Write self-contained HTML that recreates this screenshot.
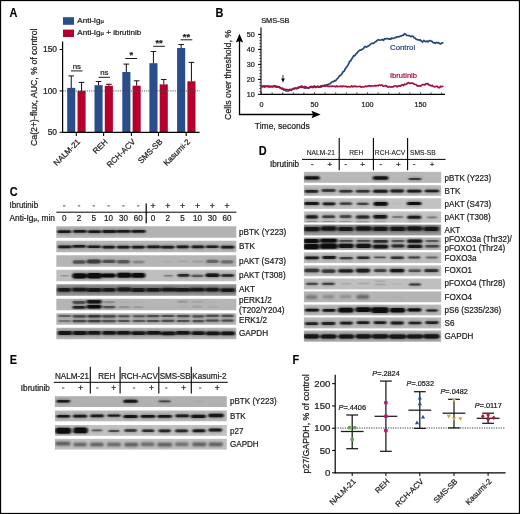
<!DOCTYPE html>
<html><head><meta charset="utf-8"><title>Figure</title>
<style>html,body{margin:0;padding:0;background:#fff;}svg{display:block;}</style></head>
<body>
<svg width="520" height="514" viewBox="0 0 520 514" font-family="Liberation Sans, sans-serif">
<defs>
<filter id="b1" x="-20%" y="-50%" width="140%" height="200%"><feGaussianBlur stdDeviation="0.9 0.7"/></filter>
<filter id="b2" x="-20%" y="-50%" width="140%" height="200%"><feGaussianBlur stdDeviation="1.3 1.0"/></filter>
<filter id="bt" x="0" y="0" width="100%" height="100%" filterUnits="userSpaceOnUse"><feGaussianBlur stdDeviation="0.33"/></filter>
</defs>
<rect x="0" y="0" width="520" height="514" fill="#fff"/>
<g filter="url(#bt)">
<text x="0" y="0" font-size="11.9" text-anchor="start" fill="#000" font-weight="bold" font-style="normal" stroke="#000" stroke-width="0.1" transform="translate(9.5 17) scale(0.92 1)" >A</text>
<text x="0" y="0" font-size="11.9" text-anchor="start" fill="#000" font-weight="bold" font-style="normal" stroke="#000" stroke-width="0.1" transform="translate(215.5 16.8) scale(0.92 1)" >B</text>
<text x="0" y="0" font-size="11.9" text-anchor="start" fill="#000" font-weight="bold" font-style="normal" stroke="#000" stroke-width="0.1" transform="translate(9.7 196.4) scale(0.92 1)" >C</text>
<text x="0" y="0" font-size="11.9" text-anchor="start" fill="#000" font-weight="bold" font-style="normal" stroke="#000" stroke-width="0.1" transform="translate(258.7 155.0) scale(0.92 1)" >D</text>
<text x="0" y="0" font-size="11.9" text-anchor="start" fill="#000" font-weight="bold" font-style="normal" stroke="#000" stroke-width="0.1" transform="translate(9.8 364) scale(0.92 1)" >E</text>
<text x="0" y="0" font-size="11.9" text-anchor="start" fill="#000" font-weight="bold" font-style="normal" stroke="#000" stroke-width="0.1" transform="translate(292.5 364) scale(0.92 1)" >F</text>
<rect x="63" y="17.2" width="11" height="7.6" fill="#2b4d8b"/>
<rect x="63" y="29.6" width="11" height="7.4" fill="#b5062e"/>
<text x="77.3" y="23.1" font-size="8.05" text-anchor="start" fill="#1a1a1a" font-weight="normal" font-style="normal" stroke="#1a1a1a" stroke-width="0.22" >Anti-Ig<tspan font-size="5.9">µ</tspan></text>
<text x="77.3" y="35.4" font-size="8.05" text-anchor="start" fill="#1a1a1a" font-weight="normal" font-style="normal" stroke="#1a1a1a" stroke-width="0.22" >Anti-Ig<tspan font-size="5.9">µ</tspan> + ibrutinib</text>
<rect x="67.2" y="87.9" width="8.1" height="44.4" fill="#2b4d8b"/>
<line x1="71.25" y1="87.9" x2="71.25" y2="75.9" stroke="#1a1a1a" stroke-width="1.05" />
<line x1="68.45" y1="75.9" x2="74.05" y2="75.9" stroke="#1a1a1a" stroke-width="1.05" />
<rect x="77.5" y="90.9" width="8.1" height="41.4" fill="#b5062e"/>
<line x1="81.55" y1="90.9" x2="81.55" y2="82.4" stroke="#1a1a1a" stroke-width="1.05" />
<line x1="78.75" y1="82.4" x2="84.35" y2="82.4" stroke="#1a1a1a" stroke-width="1.05" />
<rect x="94.5" y="85.2" width="8.1" height="47.1" fill="#2b4d8b"/>
<line x1="98.55" y1="85.2" x2="98.55" y2="81.5" stroke="#1a1a1a" stroke-width="1.05" />
<line x1="95.75" y1="81.5" x2="101.35" y2="81.5" stroke="#1a1a1a" stroke-width="1.05" />
<rect x="104.8" y="85.8" width="8.1" height="46.5" fill="#b5062e"/>
<line x1="108.85" y1="85.8" x2="108.85" y2="84.3" stroke="#1a1a1a" stroke-width="1.05" />
<line x1="106.05" y1="84.3" x2="111.64999999999999" y2="84.3" stroke="#1a1a1a" stroke-width="1.05" />
<rect x="122.3" y="72.0" width="8.1" height="60.3" fill="#2b4d8b"/>
<line x1="126.35" y1="72" x2="126.35" y2="64.1" stroke="#1a1a1a" stroke-width="1.05" />
<line x1="123.55" y1="64.1" x2="129.15" y2="64.1" stroke="#1a1a1a" stroke-width="1.05" />
<rect x="132.6" y="85.7" width="8.1" height="46.6" fill="#b5062e"/>
<line x1="136.65" y1="85.7" x2="136.65" y2="80.8" stroke="#1a1a1a" stroke-width="1.05" />
<line x1="133.85" y1="80.8" x2="139.45000000000002" y2="80.8" stroke="#1a1a1a" stroke-width="1.05" />
<rect x="149.4" y="63.2" width="8.1" height="69.1" fill="#2b4d8b"/>
<line x1="153.45000000000002" y1="63.2" x2="153.45000000000002" y2="51.5" stroke="#1a1a1a" stroke-width="1.05" />
<line x1="150.65" y1="51.5" x2="156.25000000000003" y2="51.5" stroke="#1a1a1a" stroke-width="1.05" />
<rect x="159.7" y="84.4" width="8.1" height="47.9" fill="#b5062e"/>
<line x1="163.75000000000003" y1="84.4" x2="163.75000000000003" y2="79.5" stroke="#1a1a1a" stroke-width="1.05" />
<line x1="160.95000000000002" y1="79.5" x2="166.55000000000004" y2="79.5" stroke="#1a1a1a" stroke-width="1.05" />
<rect x="177.1" y="48.0" width="8.1" height="84.3" fill="#2b4d8b"/>
<line x1="181.15" y1="48" x2="181.15" y2="44.5" stroke="#1a1a1a" stroke-width="1.05" />
<line x1="178.35" y1="44.5" x2="183.95000000000002" y2="44.5" stroke="#1a1a1a" stroke-width="1.05" />
<rect x="187.4" y="81.3" width="8.1" height="51.0" fill="#b5062e"/>
<line x1="191.45000000000002" y1="81.3" x2="191.45000000000002" y2="62.4" stroke="#1a1a1a" stroke-width="1.05" />
<line x1="188.65" y1="62.4" x2="194.25000000000003" y2="62.4" stroke="#1a1a1a" stroke-width="1.05" />
<line x1="62.6" y1="90.9" x2="199.5" y2="90.9" stroke="#444" stroke-width="0.9" stroke-dasharray="1.1 1.1"/>
<line x1="62.6" y1="41.6" x2="62.6" y2="132.8" stroke="#000" stroke-width="1.2" />
<line x1="62.0" y1="132.3" x2="199.5" y2="132.3" stroke="#000" stroke-width="1.2" />
<line x1="59.6" y1="49.5" x2="62.6" y2="49.5" stroke="#000" stroke-width="1" />
<text x="57.0" y="52.3" font-size="8.4" text-anchor="end" fill="#1a1a1a" font-weight="normal" font-style="normal" stroke="#1a1a1a" stroke-width="0.22" >150</text>
<line x1="59.6" y1="90.9" x2="62.6" y2="90.9" stroke="#000" stroke-width="1" />
<text x="57.0" y="93.7" font-size="8.4" text-anchor="end" fill="#1a1a1a" font-weight="normal" font-style="normal" stroke="#1a1a1a" stroke-width="0.22" >100</text>
<line x1="59.6" y1="132.3" x2="62.6" y2="132.3" stroke="#000" stroke-width="1" />
<text x="57.0" y="135.10000000000002" font-size="8.4" text-anchor="end" fill="#1a1a1a" font-weight="normal" font-style="normal" stroke="#1a1a1a" stroke-width="0.22" >50</text>
<line x1="76.3" y1="132.3" x2="76.3" y2="136.10000000000002" stroke="#000" stroke-width="1.1" />
<line x1="103.6" y1="132.3" x2="103.6" y2="136.10000000000002" stroke="#000" stroke-width="1.1" />
<line x1="131.4" y1="132.3" x2="131.4" y2="136.10000000000002" stroke="#000" stroke-width="1.1" />
<line x1="158.5" y1="132.3" x2="158.5" y2="136.10000000000002" stroke="#000" stroke-width="1.1" />
<line x1="186.2" y1="132.3" x2="186.2" y2="136.10000000000002" stroke="#000" stroke-width="1.1" />
<text x="0" y="0" font-size="8.75" text-anchor="start" fill="#1a1a1a" font-weight="normal" font-style="normal" stroke="#1a1a1a" stroke-width="0.22" transform="translate(37 146) rotate(-90)" >Ca(2+)-flux, AUC, % of control</text>
<line x1="71" y1="70.9" x2="82.5" y2="70.9" stroke="#000" stroke-width="0.9" />
<text x="76.75" y="68.60000000000001" font-size="7.8" text-anchor="middle" fill="#1a1a1a" font-weight="normal" font-style="normal" stroke="#1a1a1a" stroke-width="0.22" >ns</text>
<line x1="98.6" y1="77.3" x2="110" y2="77.3" stroke="#000" stroke-width="0.9" />
<text x="104.3" y="75.0" font-size="7.8" text-anchor="middle" fill="#1a1a1a" font-weight="normal" font-style="normal" stroke="#1a1a1a" stroke-width="0.22" >ns</text>
<line x1="125.4" y1="58.5" x2="137.1" y2="58.5" stroke="#000" stroke-width="0.9" />
<text x="131.25" y="58.4" font-size="9.3" text-anchor="middle" fill="#1a1a1a" font-weight="bold" font-style="normal" stroke="#1a1a1a" stroke-width="0.22" >*</text>
<line x1="153.2" y1="46.3" x2="164.8" y2="46.3" stroke="#000" stroke-width="0.9" />
<text x="159.0" y="46.199999999999996" font-size="9.3" text-anchor="middle" fill="#1a1a1a" font-weight="bold" font-style="normal" stroke="#1a1a1a" stroke-width="0.22" >**</text>
<line x1="180.6" y1="39.8" x2="192.3" y2="39.8" stroke="#000" stroke-width="0.9" />
<text x="186.45" y="39.699999999999996" font-size="9.3" text-anchor="middle" fill="#1a1a1a" font-weight="bold" font-style="normal" stroke="#1a1a1a" stroke-width="0.22" >**</text>
<text x="0" y="0" font-size="8.0" text-anchor="end" fill="#1a1a1a" font-weight="normal" font-style="normal" stroke="#1a1a1a" stroke-width="0.22" transform="translate(80.7 142.3) rotate(-45)" >NALM-21</text>
<text x="0" y="0" font-size="8.0" text-anchor="end" fill="#1a1a1a" font-weight="normal" font-style="normal" stroke="#1a1a1a" stroke-width="0.22" transform="translate(108.0 142.3) rotate(-45)" >REH</text>
<text x="0" y="0" font-size="8.0" text-anchor="end" fill="#1a1a1a" font-weight="normal" font-style="normal" stroke="#1a1a1a" stroke-width="0.22" transform="translate(135.8 142.3) rotate(-45)" >RCH-ACV</text>
<text x="0" y="0" font-size="8.0" text-anchor="end" fill="#1a1a1a" font-weight="normal" font-style="normal" stroke="#1a1a1a" stroke-width="0.22" transform="translate(162.9 142.3) rotate(-45)" >SMS-SB</text>
<text x="0" y="0" font-size="8.0" text-anchor="end" fill="#1a1a1a" font-weight="normal" font-style="normal" stroke="#1a1a1a" stroke-width="0.22" transform="translate(190.6 142.3) rotate(-45)" >Kasumi-2</text>
<text x="261.2" y="22.9" font-size="7.4" text-anchor="start" fill="#1a1a1a" font-weight="normal" font-style="normal" stroke="#1a1a1a" stroke-width="0.22" >SMS-SB</text>
<line x1="261.0" y1="27.6" x2="261.0" y2="94.9" stroke="#000" stroke-width="1.1" />
<line x1="261.0" y1="94.4" x2="445" y2="94.4" stroke="#000" stroke-width="1.2" />
<line x1="258.0" y1="94.4" x2="261.0" y2="94.4" stroke="#000" stroke-width="1" />
<text x="254.8" y="97.0" font-size="7.2" text-anchor="end" fill="#1a1a1a" font-weight="normal" font-style="normal" stroke="#1a1a1a" stroke-width="0.22" >10</text>
<line x1="258.0" y1="79.4" x2="261.0" y2="79.4" stroke="#000" stroke-width="1" />
<text x="254.8" y="82.0" font-size="7.2" text-anchor="end" fill="#1a1a1a" font-weight="normal" font-style="normal" stroke="#1a1a1a" stroke-width="0.22" >20</text>
<line x1="258.0" y1="64.4" x2="261.0" y2="64.4" stroke="#000" stroke-width="1" />
<text x="254.8" y="67.0" font-size="7.2" text-anchor="end" fill="#1a1a1a" font-weight="normal" font-style="normal" stroke="#1a1a1a" stroke-width="0.22" >30</text>
<line x1="258.0" y1="49.400000000000006" x2="261.0" y2="49.400000000000006" stroke="#000" stroke-width="1" />
<text x="254.8" y="52.00000000000001" font-size="7.2" text-anchor="end" fill="#1a1a1a" font-weight="normal" font-style="normal" stroke="#1a1a1a" stroke-width="0.22" >40</text>
<line x1="258.0" y1="34.400000000000006" x2="261.0" y2="34.400000000000006" stroke="#000" stroke-width="1" />
<text x="254.8" y="37.00000000000001" font-size="7.2" text-anchor="end" fill="#1a1a1a" font-weight="normal" font-style="normal" stroke="#1a1a1a" stroke-width="0.22" >50</text>
<line x1="259.3" y1="94.4" x2="261.0" y2="94.4" stroke="#000" stroke-width="0.6" />
<line x1="259.3" y1="91.4" x2="261.0" y2="91.4" stroke="#000" stroke-width="0.6" />
<line x1="259.3" y1="88.4" x2="261.0" y2="88.4" stroke="#000" stroke-width="0.6" />
<line x1="259.3" y1="85.4" x2="261.0" y2="85.4" stroke="#000" stroke-width="0.6" />
<line x1="259.3" y1="82.4" x2="261.0" y2="82.4" stroke="#000" stroke-width="0.6" />
<line x1="259.3" y1="79.4" x2="261.0" y2="79.4" stroke="#000" stroke-width="0.6" />
<line x1="259.3" y1="76.4" x2="261.0" y2="76.4" stroke="#000" stroke-width="0.6" />
<line x1="259.3" y1="73.4" x2="261.0" y2="73.4" stroke="#000" stroke-width="0.6" />
<line x1="259.3" y1="70.4" x2="261.0" y2="70.4" stroke="#000" stroke-width="0.6" />
<line x1="259.3" y1="67.4" x2="261.0" y2="67.4" stroke="#000" stroke-width="0.6" />
<line x1="259.3" y1="64.4" x2="261.0" y2="64.4" stroke="#000" stroke-width="0.6" />
<line x1="259.3" y1="61.400000000000006" x2="261.0" y2="61.400000000000006" stroke="#000" stroke-width="0.6" />
<line x1="259.3" y1="58.400000000000006" x2="261.0" y2="58.400000000000006" stroke="#000" stroke-width="0.6" />
<line x1="259.3" y1="55.400000000000006" x2="261.0" y2="55.400000000000006" stroke="#000" stroke-width="0.6" />
<line x1="259.3" y1="52.400000000000006" x2="261.0" y2="52.400000000000006" stroke="#000" stroke-width="0.6" />
<line x1="259.3" y1="49.400000000000006" x2="261.0" y2="49.400000000000006" stroke="#000" stroke-width="0.6" />
<line x1="259.3" y1="46.400000000000006" x2="261.0" y2="46.400000000000006" stroke="#000" stroke-width="0.6" />
<line x1="259.3" y1="43.400000000000006" x2="261.0" y2="43.400000000000006" stroke="#000" stroke-width="0.6" />
<line x1="259.3" y1="40.400000000000006" x2="261.0" y2="40.400000000000006" stroke="#000" stroke-width="0.6" />
<line x1="259.3" y1="37.400000000000006" x2="261.0" y2="37.400000000000006" stroke="#000" stroke-width="0.6" />
<line x1="259.3" y1="34.400000000000006" x2="261.0" y2="34.400000000000006" stroke="#000" stroke-width="0.6" />
<line x1="261.5" y1="92.4" x2="261.5" y2="94.4" stroke="#000" stroke-width="0.7" />
<line x1="272.1" y1="92.4" x2="272.1" y2="94.4" stroke="#000" stroke-width="0.7" />
<line x1="282.7" y1="92.4" x2="282.7" y2="94.4" stroke="#000" stroke-width="0.7" />
<line x1="293.3" y1="92.4" x2="293.3" y2="94.4" stroke="#000" stroke-width="0.7" />
<line x1="303.9" y1="92.4" x2="303.9" y2="94.4" stroke="#000" stroke-width="0.7" />
<line x1="314.5" y1="92.4" x2="314.5" y2="94.4" stroke="#000" stroke-width="0.7" />
<line x1="325.1" y1="92.4" x2="325.1" y2="94.4" stroke="#000" stroke-width="0.7" />
<line x1="335.7" y1="92.4" x2="335.7" y2="94.4" stroke="#000" stroke-width="0.7" />
<line x1="346.3" y1="92.4" x2="346.3" y2="94.4" stroke="#000" stroke-width="0.7" />
<line x1="356.9" y1="92.4" x2="356.9" y2="94.4" stroke="#000" stroke-width="0.7" />
<line x1="367.5" y1="92.4" x2="367.5" y2="94.4" stroke="#000" stroke-width="0.7" />
<line x1="378.1" y1="92.4" x2="378.1" y2="94.4" stroke="#000" stroke-width="0.7" />
<line x1="388.7" y1="92.4" x2="388.7" y2="94.4" stroke="#000" stroke-width="0.7" />
<line x1="399.3" y1="92.4" x2="399.3" y2="94.4" stroke="#000" stroke-width="0.7" />
<line x1="409.9" y1="92.4" x2="409.9" y2="94.4" stroke="#000" stroke-width="0.7" />
<line x1="420.5" y1="92.4" x2="420.5" y2="94.4" stroke="#000" stroke-width="0.7" />
<line x1="431.1" y1="92.4" x2="431.1" y2="94.4" stroke="#000" stroke-width="0.7" />
<line x1="441.70000000000005" y1="92.4" x2="441.70000000000005" y2="94.4" stroke="#000" stroke-width="0.7" />
<text x="261.5" y="106.9" font-size="7.2" text-anchor="middle" fill="#1a1a1a" font-weight="normal" font-style="normal" stroke="#1a1a1a" stroke-width="0.22" >0</text>
<text x="314.5" y="106.9" font-size="7.2" text-anchor="middle" fill="#1a1a1a" font-weight="normal" font-style="normal" stroke="#1a1a1a" stroke-width="0.22" >50</text>
<text x="367.5" y="106.9" font-size="7.2" text-anchor="middle" fill="#1a1a1a" font-weight="normal" font-style="normal" stroke="#1a1a1a" stroke-width="0.22" >100</text>
<text x="420.5" y="106.9" font-size="7.2" text-anchor="middle" fill="#1a1a1a" font-weight="normal" font-style="normal" stroke="#1a1a1a" stroke-width="0.22" >150</text>
<line x1="239.5" y1="115" x2="239.5" y2="40" stroke="#000" stroke-width="1.3" />
<path d="M239.5 33.8 L243.2 42.5 L239.5 41 L235.8 42.5 Z" fill="#000"/>
<line x1="238.9" y1="114.5" x2="313" y2="114.5" stroke="#000" stroke-width="1.3" />
<path d="M320.6 114.5 L311.5 118.3 L313 114.5 L311.5 110.7 Z" fill="#000"/>
<text x="0" y="0" font-size="8.75" text-anchor="start" fill="#1a1a1a" font-weight="normal" font-style="normal" stroke="#1a1a1a" stroke-width="0.22" transform="translate(231 119.9) rotate(-90)" >Cells over threshold, %</text>
<text x="0" y="0" font-size="9.9" text-anchor="start" fill="#1a1a1a" font-weight="normal" font-style="normal" stroke="#1a1a1a" stroke-width="0.22" transform="translate(254.8 129.0) scale(0.86 1)" >Time, seconds</text>
<line x1="283" y1="75" x2="283" y2="80" stroke="#000" stroke-width="0.8" />
<path d="M283 82.5 L281.2 78.6 L284.8 78.6 Z" fill="#000"/>
<polyline points="261.5,86.7 262.6,87.0 263.6,86.1 264.7,87.0 265.7,86.2 266.8,86.4 267.9,86.8 268.9,86.0 270.0,86.8 271.0,86.2 272.1,86.9 273.2,86.9 274.2,86.5 275.3,85.9 276.3,87.1 277.4,87.1 278.5,86.8 279.5,86.8 280.6,87.8 281.6,88.6 282.7,88.1 283.8,90.2 284.8,89.4 285.9,90.8 286.9,91.0 288.0,91.0 289.1,90.6 290.1,89.7 291.2,90.4 292.2,89.3 293.3,88.9 294.4,89.0 295.4,88.3 296.5,88.8 297.5,88.5 298.6,88.0 299.7,86.9 300.7,87.0 301.8,87.4 302.8,87.2 303.9,87.7 305.0,88.2 306.0,87.6 307.1,87.6 308.1,88.2 309.2,87.4 310.3,87.3 311.3,86.6 312.4,86.7 313.4,87.4 314.5,86.1 315.6,87.5 316.6,86.9 317.7,86.2 318.7,87.1 319.8,86.5 320.9,87.1 321.9,85.9 323.0,85.6 324.0,85.7 325.1,85.1 326.2,85.6 327.2,84.6 328.3,84.4 329.3,84.1 330.4,83.6 331.5,82.4 332.5,81.6 333.6,81.7 334.6,80.6 335.7,80.9 336.8,79.1 337.8,78.4 338.9,76.6 339.9,75.7 341.0,75.1 342.1,73.5 343.1,71.6 344.2,71.2 345.2,68.8 346.3,67.6 347.4,66.0 348.4,64.4 349.5,61.6 350.5,61.0 351.6,59.2 352.7,57.4 353.7,55.6 354.8,55.9 355.8,54.2 356.9,53.1 358.0,51.7 359.0,50.9 360.1,50.0 361.1,50.1 362.2,49.2 363.3,48.7 364.3,47.2 365.4,46.4 366.4,47.1 367.5,46.5 368.6,45.8 369.6,45.2 370.7,44.2 371.7,43.4 372.8,43.4 373.9,43.2 374.9,42.0 376.0,41.5 377.0,40.6 378.1,39.8 379.2,40.0 380.2,40.1 381.3,39.8 382.3,39.5 383.4,40.4 384.5,38.8 385.5,38.9 386.6,38.6 387.6,38.6 388.7,39.1 389.8,38.9 390.8,39.1 391.9,37.9 392.9,38.5 394.0,38.2 395.1,37.6 396.1,37.4 397.2,36.8 398.2,36.9 399.3,36.7 400.4,36.1 401.4,35.9 402.5,35.1 403.5,35.4 404.6,33.6 405.7,34.3 406.7,35.4 407.8,35.5 408.8,35.6 409.9,35.8 411.0,36.7 412.0,36.0 413.1,36.3 414.1,37.7 415.2,38.2 416.3,39.3 417.3,39.7 418.4,39.8 419.4,40.3 420.5,39.9 421.6,41.4 422.6,42.1 423.7,40.5 424.7,41.2 425.8,41.7 426.9,41.0 427.9,41.8 429.0,41.0 430.0,40.5 431.1,41.0 432.2,41.6 433.2,42.6 434.3,42.7 435.3,43.2 436.4,42.4 437.5,42.9 438.5,42.6 439.6,43.5 440.6,43.9 441.7,43.0 442.8,42.9" fill="none" stroke="#27457f" stroke-width="1.7" stroke-linejoin="round" stroke-linecap="round"/>
<polyline points="261.5,86.1 262.6,86.1 263.6,86.0 264.7,86.0 265.7,86.6 266.8,86.1 267.9,86.2 268.9,86.7 270.0,86.8 271.0,86.5 272.1,86.6 273.2,86.1 274.2,85.8 275.3,86.7 276.3,86.3 277.4,86.5 278.5,86.7 279.5,87.8 280.6,88.2 281.6,88.6 282.7,89.1 283.8,89.5 284.8,89.4 285.9,89.5 286.9,89.5 288.0,89.9 289.1,89.6 290.1,89.3 291.2,90.2 292.2,89.1 293.3,88.4 294.4,88.3 295.4,88.1 296.5,88.1 297.5,88.2 298.6,87.1 299.7,87.4 300.7,86.5 301.8,86.0 302.8,86.9 303.9,87.1 305.0,86.5 306.0,87.0 307.1,87.9 308.1,87.9 309.2,87.8 310.3,86.7 311.3,86.7 312.4,87.5 313.4,86.5 314.5,86.3 315.6,86.6 316.6,87.0 317.7,86.6 318.7,87.1 319.8,87.2 320.9,85.8 321.9,86.2 323.0,86.3 324.0,85.7 325.1,86.3 326.2,85.7 327.2,85.7 328.3,86.5 329.3,86.4 330.4,86.3 331.5,86.4 332.5,86.0 333.6,86.5 334.6,86.3 335.7,86.8 336.8,85.8 337.8,86.6 338.9,86.5 339.9,86.4 341.0,86.1 342.1,86.7 343.1,86.0 344.2,86.5 345.2,86.4 346.3,86.4 347.4,87.1 348.4,86.5 349.5,86.8 350.5,87.0 351.6,85.9 352.7,86.8 353.7,86.4 354.8,86.1 355.8,86.4 356.9,86.8 358.0,86.5 359.0,86.5 360.1,86.3 361.1,87.2 362.2,86.7 363.3,87.0 364.3,86.9 365.4,86.2 366.4,86.4 367.5,86.3 368.6,85.9 369.6,85.7 370.7,86.2 371.7,85.9 372.8,86.0 373.9,85.9 374.9,85.6 376.0,85.9 377.0,85.7 378.1,85.7 379.2,85.0 380.2,85.3 381.3,85.2 382.3,85.2 383.4,86.3 384.5,86.0 385.5,85.6 386.6,85.9 387.6,87.0 388.7,87.1 389.8,86.6 390.8,87.1 391.9,86.8 392.9,87.0 394.0,86.2 395.1,86.0 396.1,85.8 397.2,86.8 398.2,85.8 399.3,85.7 400.4,86.2 401.4,85.0 402.5,84.7 403.5,85.5 404.6,84.1 405.7,84.4 406.7,83.9 407.8,82.8 408.8,82.6 409.9,83.5 411.0,83.2 412.0,83.1 413.1,83.4 414.1,84.1 415.2,84.5 416.3,84.6 417.3,86.1 418.4,85.9 419.4,85.8 420.5,86.1 421.6,85.3 422.6,84.6 423.7,84.5 424.7,85.0 425.8,83.7 426.9,83.9 427.9,83.6 429.0,85.1 430.0,85.2 431.1,85.9 432.2,85.3 433.2,86.3 434.3,86.8 435.3,86.6 436.4,86.3 437.5,86.6 438.5,87.7 439.6,87.6 440.6,86.4 441.7,86.7 442.8,86.3" fill="none" stroke="#a80f3c" stroke-width="1.7" stroke-linejoin="round" stroke-linecap="round"/>
<text x="390" y="49.5" font-size="7.8" text-anchor="start" fill="#27457f" font-weight="normal" font-style="normal" stroke="#27457f" stroke-width="0.22" >Control</text>
<text x="390" y="78" font-size="7.6" text-anchor="start" fill="#a80f3c" font-weight="normal" font-style="normal" stroke="#a80f3c" stroke-width="0.22" >Ibrutinib</text>
<text x="0" y="0" font-size="9.1" text-anchor="start" fill="#1a1a1a" font-weight="normal" font-style="normal" stroke="#1a1a1a" stroke-width="0.22" transform="translate(9.5 208.2) scale(0.885 1)" >Ibrutinib</text>
<text x="9.5" y="220.9" font-size="8.3" text-anchor="start" fill="#1a1a1a" font-weight="normal" font-style="normal" stroke="#1a1a1a" stroke-width="0.22" >Anti-Ig<tspan font-size="6.1">µ</tspan>, min</text>
<line x1="56.3" y1="212.2" x2="236.3" y2="212.2" stroke="#000" stroke-width="1" />
<line x1="146.2" y1="203.5" x2="146.2" y2="223.3" stroke="#000" stroke-width="1.2" />
<line x1="63.0" y1="205.9" x2="65.4" y2="205.9" stroke="#000" stroke-width="0.7" />
<line x1="77.8" y1="205.9" x2="80.2" y2="205.9" stroke="#000" stroke-width="0.7" />
<line x1="92.60000000000001" y1="205.9" x2="95.00000000000001" y2="205.9" stroke="#000" stroke-width="0.7" />
<line x1="107.4" y1="205.9" x2="109.80000000000001" y2="205.9" stroke="#000" stroke-width="0.7" />
<line x1="122.2" y1="205.9" x2="124.60000000000001" y2="205.9" stroke="#000" stroke-width="0.7" />
<line x1="137.0" y1="205.9" x2="139.39999999999998" y2="205.9" stroke="#000" stroke-width="0.7" />
<text x="153.0" y="209.2" font-size="8.6" text-anchor="middle" fill="#1a1a1a" font-weight="normal" font-style="normal" stroke="#1a1a1a" stroke-width="0.22" >+</text>
<text x="167.8" y="209.2" font-size="8.6" text-anchor="middle" fill="#1a1a1a" font-weight="normal" font-style="normal" stroke="#1a1a1a" stroke-width="0.22" >+</text>
<text x="182.60000000000002" y="209.2" font-size="8.6" text-anchor="middle" fill="#1a1a1a" font-weight="normal" font-style="normal" stroke="#1a1a1a" stroke-width="0.22" >+</text>
<text x="197.40000000000003" y="209.2" font-size="8.6" text-anchor="middle" fill="#1a1a1a" font-weight="normal" font-style="normal" stroke="#1a1a1a" stroke-width="0.22" >+</text>
<text x="212.2" y="209.2" font-size="8.6" text-anchor="middle" fill="#1a1a1a" font-weight="normal" font-style="normal" stroke="#1a1a1a" stroke-width="0.22" >+</text>
<text x="227.0" y="209.2" font-size="8.6" text-anchor="middle" fill="#1a1a1a" font-weight="normal" font-style="normal" stroke="#1a1a1a" stroke-width="0.22" >+</text>
<text x="0" y="0" font-size="8.7" text-anchor="middle" fill="#1a1a1a" font-weight="normal" font-style="normal" stroke="#1a1a1a" stroke-width="0.22" transform="translate(64.2 221.3) scale(0.93 1)" >0</text>
<text x="0" y="0" font-size="8.7" text-anchor="middle" fill="#1a1a1a" font-weight="normal" font-style="normal" stroke="#1a1a1a" stroke-width="0.22" transform="translate(79.0 221.3) scale(0.93 1)" >2</text>
<text x="0" y="0" font-size="8.7" text-anchor="middle" fill="#1a1a1a" font-weight="normal" font-style="normal" stroke="#1a1a1a" stroke-width="0.22" transform="translate(93.80000000000001 221.3) scale(0.93 1)" >5</text>
<text x="0" y="0" font-size="8.7" text-anchor="middle" fill="#1a1a1a" font-weight="normal" font-style="normal" stroke="#1a1a1a" stroke-width="0.22" transform="translate(108.60000000000001 221.3) scale(0.93 1)" >10</text>
<text x="0" y="0" font-size="8.7" text-anchor="middle" fill="#1a1a1a" font-weight="normal" font-style="normal" stroke="#1a1a1a" stroke-width="0.22" transform="translate(123.4 221.3) scale(0.93 1)" >30</text>
<text x="0" y="0" font-size="8.7" text-anchor="middle" fill="#1a1a1a" font-weight="normal" font-style="normal" stroke="#1a1a1a" stroke-width="0.22" transform="translate(138.2 221.3) scale(0.93 1)" >60</text>
<text x="0" y="0" font-size="8.7" text-anchor="middle" fill="#1a1a1a" font-weight="normal" font-style="normal" stroke="#1a1a1a" stroke-width="0.22" transform="translate(153.0 221.3) scale(0.93 1)" >0</text>
<text x="0" y="0" font-size="8.7" text-anchor="middle" fill="#1a1a1a" font-weight="normal" font-style="normal" stroke="#1a1a1a" stroke-width="0.22" transform="translate(167.8 221.3) scale(0.93 1)" >2</text>
<text x="0" y="0" font-size="8.7" text-anchor="middle" fill="#1a1a1a" font-weight="normal" font-style="normal" stroke="#1a1a1a" stroke-width="0.22" transform="translate(182.60000000000002 221.3) scale(0.93 1)" >5</text>
<text x="0" y="0" font-size="8.7" text-anchor="middle" fill="#1a1a1a" font-weight="normal" font-style="normal" stroke="#1a1a1a" stroke-width="0.22" transform="translate(197.40000000000003 221.3) scale(0.93 1)" >10</text>
<text x="0" y="0" font-size="8.7" text-anchor="middle" fill="#1a1a1a" font-weight="normal" font-style="normal" stroke="#1a1a1a" stroke-width="0.22" transform="translate(212.2 221.3) scale(0.93 1)" >30</text>
<text x="0" y="0" font-size="8.7" text-anchor="middle" fill="#1a1a1a" font-weight="normal" font-style="normal" stroke="#1a1a1a" stroke-width="0.22" transform="translate(227.0 221.3) scale(0.93 1)" >60</text>
<clipPath id="c1"><rect x="56.3" y="226.25" width="180.00" height="11.50"/></clipPath>
<rect x="56.3" y="226.25" width="180.00" height="11.50" fill="#b3b3b3"/>
<g clip-path="url(#c1)"><g filter="url(#b2)"><rect x="56.8" y="229.2" width="14.8" height="4.9" rx="2.5" fill="#111" opacity="0.27"/><rect x="72.7" y="228.9" width="14.2" height="4.9" rx="2.5" fill="#111" opacity="0.27"/><rect x="87.3" y="229.2" width="14.3" height="4.9" rx="2.5" fill="#111" opacity="0.27"/><rect x="101.7" y="229.0" width="15.0" height="4.9" rx="2.5" fill="#111" opacity="0.27"/><rect x="115.8" y="228.9" width="15.2" height="4.9" rx="2.5" fill="#111" opacity="0.27"/><rect x="130.9" y="228.9" width="15.1" height="4.9" rx="2.5" fill="#111" opacity="0.27"/></g><g filter="url(#b1)"><rect x="57.4" y="230.2" width="13.6" height="2.9" rx="1.4" fill="#0c0c0c" opacity="0.9"/><rect x="73.3" y="229.9" width="13.0" height="2.9" rx="1.4" fill="#0c0c0c" opacity="0.9"/><rect x="87.9" y="230.2" width="13.1" height="2.9" rx="1.4" fill="#0c0c0c" opacity="0.9"/><rect x="102.3" y="230.0" width="13.8" height="2.9" rx="1.4" fill="#0c0c0c" opacity="0.9"/><rect x="116.4" y="229.9" width="14.0" height="2.9" rx="1.4" fill="#0c0c0c" opacity="0.9"/><rect x="131.5" y="229.9" width="13.9" height="2.9" rx="1.4" fill="#0c0c0c" opacity="0.9"/></g></g>
<clipPath id="c2"><rect x="56.3" y="240.75" width="180.00" height="11.50"/></clipPath>
<rect x="56.3" y="240.75" width="180.00" height="11.50" fill="#b7b7b7"/>
<g clip-path="url(#c2)"><g filter="url(#b2)"><rect x="57.4" y="244.6" width="14.7" height="4.7" rx="2.5" fill="#111" opacity="0.26"/><rect x="71.8" y="244.1" width="14.5" height="4.7" rx="2.5" fill="#111" opacity="0.26"/><rect x="86.8" y="244.4" width="14.5" height="4.7" rx="2.5" fill="#111" opacity="0.26"/><rect x="101.7" y="244.7" width="14.0" height="4.7" rx="2.5" fill="#111" opacity="0.26"/><rect x="116.3" y="244.7" width="14.1" height="4.7" rx="2.5" fill="#111" opacity="0.26"/><rect x="131.0" y="244.7" width="14.4" height="4.7" rx="2.5" fill="#111" opacity="0.26"/><rect x="146.2" y="244.6" width="14.8" height="4.7" rx="2.5" fill="#111" opacity="0.26"/><rect x="160.6" y="244.8" width="14.2" height="4.7" rx="2.5" fill="#111" opacity="0.26"/><rect x="175.9" y="244.5" width="13.7" height="4.7" rx="2.5" fill="#111" opacity="0.26"/><rect x="190.9" y="244.6" width="14.0" height="4.7" rx="2.5" fill="#111" opacity="0.26"/><rect x="205.4" y="244.4" width="13.7" height="4.7" rx="2.5" fill="#111" opacity="0.26"/><rect x="220.4" y="244.8" width="14.4" height="4.7" rx="2.5" fill="#111" opacity="0.26"/></g><g filter="url(#b1)"><rect x="58.0" y="245.6" width="13.5" height="2.7" rx="1.4" fill="#0c0c0c" opacity="0.87"/><rect x="72.4" y="245.1" width="13.3" height="2.7" rx="1.4" fill="#0c0c0c" opacity="0.87"/><rect x="87.4" y="245.4" width="13.3" height="2.7" rx="1.4" fill="#0c0c0c" opacity="0.87"/><rect x="102.3" y="245.7" width="12.8" height="2.7" rx="1.4" fill="#0c0c0c" opacity="0.87"/><rect x="116.9" y="245.7" width="12.9" height="2.7" rx="1.4" fill="#0c0c0c" opacity="0.87"/><rect x="131.6" y="245.7" width="13.2" height="2.7" rx="1.4" fill="#0c0c0c" opacity="0.87"/><rect x="146.8" y="245.6" width="13.6" height="2.7" rx="1.4" fill="#0c0c0c" opacity="0.87"/><rect x="161.2" y="245.8" width="13.0" height="2.7" rx="1.4" fill="#0c0c0c" opacity="0.87"/><rect x="176.5" y="245.5" width="12.5" height="2.7" rx="1.4" fill="#0c0c0c" opacity="0.87"/><rect x="191.5" y="245.6" width="12.8" height="2.7" rx="1.4" fill="#0c0c0c" opacity="0.87"/><rect x="206.0" y="245.4" width="12.5" height="2.7" rx="1.4" fill="#0c0c0c" opacity="0.87"/><rect x="221.0" y="245.8" width="13.2" height="2.7" rx="1.4" fill="#0c0c0c" opacity="0.87"/></g></g>
<clipPath id="c3"><rect x="56.3" y="255.25" width="180.00" height="11.50"/></clipPath>
<rect x="56.3" y="255.25" width="180.00" height="11.50" fill="#b5b5b5"/>
<g clip-path="url(#c3)"><g filter="url(#b2)"><rect x="72.2" y="259.2" width="14.1" height="5.6" rx="2.5" fill="#111" opacity="0.12"/><rect x="86.3" y="258.4" width="15.0" height="6.0" rx="2.5" fill="#111" opacity="0.17"/><rect x="101.7" y="258.7" width="14.4" height="5.4" rx="2.5" fill="#111" opacity="0.12"/><rect x="116.4" y="259.1" width="14.0" height="5.4" rx="2.5" fill="#111" opacity="0.11"/><rect x="205.7" y="258.7" width="13.3" height="5.4" rx="2.5" fill="#111" opacity="0.10"/><rect x="220.3" y="259.2" width="13.7" height="5.2" rx="2.5" fill="#111" opacity="0.09"/></g><g filter="url(#b1)"><rect x="72.8" y="260.2" width="12.9" height="3.6" rx="1.8" fill="#0c0c0c" opacity="0.5"/><rect x="86.9" y="259.4" width="13.8" height="4.0" rx="2.0" fill="#0c0c0c" opacity="0.68"/><rect x="102.3" y="259.7" width="13.2" height="3.4" rx="1.7" fill="#0c0c0c" opacity="0.5"/><rect x="117.0" y="260.1" width="12.8" height="3.4" rx="1.7" fill="#0c0c0c" opacity="0.45"/><rect x="132.8" y="260.5" width="11.5" height="3.0" rx="1.5" fill="#0c0c0c" opacity="0.25"/><rect x="162.0" y="260.5" width="11.7" height="2.4" rx="1.2" fill="#0c0c0c" opacity="0.04"/><rect x="177.5" y="260.2" width="11.8" height="2.4" rx="1.2" fill="#0c0c0c" opacity="0.07"/><rect x="192.3" y="260.3" width="11.6" height="2.6" rx="1.3" fill="#0c0c0c" opacity="0.1"/><rect x="206.3" y="259.7" width="12.1" height="3.4" rx="1.7" fill="#0c0c0c" opacity="0.38"/><rect x="220.9" y="260.2" width="12.5" height="3.2" rx="1.6" fill="#0c0c0c" opacity="0.34"/></g></g>
<clipPath id="c4"><rect x="56.3" y="269.75" width="180.00" height="11.50"/></clipPath>
<rect x="56.3" y="269.75" width="180.00" height="11.50" fill="#bfbfbf"/>
<g clip-path="url(#c4)"><g filter="url(#b2)"><rect x="71.9" y="272.2" width="15.4" height="7.2" rx="2.5" fill="#111" opacity="0.30"/><rect x="86.3" y="272.0" width="16.2" height="7.4" rx="2.5" fill="#111" opacity="0.30"/><rect x="100.9" y="272.5" width="15.2" height="6.0" rx="2.5" fill="#111" opacity="0.30"/><rect x="116.3" y="271.8" width="15.6" height="7.0" rx="2.5" fill="#111" opacity="0.30"/><rect x="130.8" y="272.1" width="14.9" height="6.6" rx="2.5" fill="#111" opacity="0.30"/><rect x="163.1" y="273.9" width="10.5" height="3.6" rx="2.5" fill="#111" opacity="0.09"/><rect x="177.1" y="273.1" width="12.8" height="4.6" rx="2.5" fill="#111" opacity="0.24"/><rect x="191.1" y="273.8" width="12.7" height="4.2" rx="2.5" fill="#111" opacity="0.17"/><rect x="205.1" y="272.6" width="14.8" height="5.4" rx="2.5" fill="#111" opacity="0.28"/><rect x="220.8" y="273.2" width="13.7" height="4.6" rx="2.5" fill="#111" opacity="0.26"/></g><g filter="url(#b1)"><rect x="60.8" y="275.0" width="7.9" height="1.6" rx="0.8" fill="#0c0c0c" opacity="0.25"/><rect x="72.5" y="273.2" width="14.2" height="5.2" rx="2.6" fill="#0c0c0c" opacity="1"/><rect x="86.9" y="273.0" width="15.0" height="5.4" rx="2.7" fill="#0c0c0c" opacity="1"/><rect x="101.5" y="273.5" width="14.0" height="4.0" rx="2.0" fill="#0c0c0c" opacity="1"/><rect x="116.9" y="272.8" width="14.4" height="5.0" rx="2.5" fill="#0c0c0c" opacity="1"/><rect x="131.4" y="273.1" width="13.7" height="4.6" rx="2.3" fill="#0c0c0c" opacity="1"/><rect x="163.7" y="274.9" width="9.3" height="1.6" rx="0.8" fill="#0c0c0c" opacity="0.3"/><rect x="177.7" y="274.1" width="11.6" height="2.6" rx="1.3" fill="#0c0c0c" opacity="0.8"/><rect x="191.7" y="274.8" width="11.5" height="2.2" rx="1.1" fill="#0c0c0c" opacity="0.55"/><rect x="205.7" y="273.6" width="13.6" height="3.4" rx="1.7" fill="#0c0c0c" opacity="0.95"/><rect x="221.4" y="274.2" width="12.5" height="2.6" rx="1.3" fill="#0c0c0c" opacity="0.85"/></g></g>
<clipPath id="c5"><rect x="56.3" y="284.25" width="180.00" height="11.50"/></clipPath>
<rect x="56.3" y="284.25" width="180.00" height="11.50" fill="#949494"/>
<g clip-path="url(#c5)"><g filter="url(#b2)"><rect x="56.7" y="286.9" width="15.0" height="5.8" rx="2.5" fill="#111" opacity="0.35"/><rect x="71.4" y="286.7" width="16.0" height="5.8" rx="2.5" fill="#111" opacity="0.35"/><rect x="86.2" y="287.1" width="16.1" height="5.8" rx="2.5" fill="#111" opacity="0.35"/><rect x="101.6" y="286.9" width="14.8" height="5.8" rx="2.5" fill="#111" opacity="0.35"/><rect x="116.5" y="286.6" width="15.2" height="5.8" rx="2.5" fill="#111" opacity="0.35"/><rect x="130.6" y="287.1" width="15.3" height="5.8" rx="2.5" fill="#111" opacity="0.35"/><rect x="145.4" y="286.9" width="15.9" height="5.8" rx="2.5" fill="#111" opacity="0.35"/><rect x="160.7" y="286.8" width="16.0" height="5.8" rx="2.5" fill="#111" opacity="0.35"/><rect x="175.1" y="287.0" width="16.2" height="5.8" rx="2.5" fill="#111" opacity="0.35"/><rect x="189.8" y="286.8" width="15.4" height="5.8" rx="2.5" fill="#111" opacity="0.35"/><rect x="204.9" y="286.8" width="14.9" height="5.8" rx="2.5" fill="#111" opacity="0.35"/><rect x="219.8" y="287.2" width="16.0" height="5.8" rx="2.5" fill="#111" opacity="0.35"/></g><g filter="url(#b1)"><rect x="57.3" y="287.9" width="13.8" height="3.8" rx="1.9" fill="#0c0c0c" opacity="0.88"/><rect x="72.0" y="287.7" width="14.8" height="3.8" rx="1.9" fill="#0c0c0c" opacity="0.88"/><rect x="86.8" y="288.1" width="14.9" height="3.8" rx="1.9" fill="#0c0c0c" opacity="0.88"/><rect x="102.2" y="287.9" width="13.6" height="3.8" rx="1.9" fill="#0c0c0c" opacity="0.88"/><rect x="117.1" y="287.6" width="14.0" height="3.8" rx="1.9" fill="#0c0c0c" opacity="0.88"/><rect x="131.2" y="288.1" width="14.1" height="3.8" rx="1.9" fill="#0c0c0c" opacity="0.88"/><rect x="146.0" y="287.9" width="14.7" height="3.8" rx="1.9" fill="#0c0c0c" opacity="0.88"/><rect x="161.3" y="287.8" width="14.8" height="3.8" rx="1.9" fill="#0c0c0c" opacity="0.88"/><rect x="175.7" y="288.0" width="15.0" height="3.8" rx="1.9" fill="#0c0c0c" opacity="0.88"/><rect x="190.4" y="287.8" width="14.2" height="3.8" rx="1.9" fill="#0c0c0c" opacity="0.88"/><rect x="205.5" y="287.8" width="13.7" height="3.8" rx="1.9" fill="#0c0c0c" opacity="0.88"/><rect x="220.4" y="288.2" width="14.8" height="3.8" rx="1.9" fill="#0c0c0c" opacity="0.88"/></g></g>
<clipPath id="c6"><rect x="56.3" y="298.75" width="180.00" height="11.50"/></clipPath>
<rect x="56.3" y="298.75" width="180.00" height="11.50" fill="#b5b5b5"/>
<g clip-path="url(#c6)"><g filter="url(#b2)"><rect x="72.2" y="299.9" width="13.8" height="4.8" rx="2.5" fill="#111" opacity="0.18"/><rect x="72.2" y="304.9" width="13.8" height="4.8" rx="2.5" fill="#111" opacity="0.26"/><rect x="86.1" y="299.1" width="16.0" height="5.4" rx="2.5" fill="#111" opacity="0.27"/><rect x="86.1" y="304.1" width="16.0" height="5.4" rx="2.5" fill="#111" opacity="0.29"/><rect x="102.5" y="304.9" width="13.1" height="4.4" rx="2.5" fill="#111" opacity="0.17"/></g><g filter="url(#b1)"><rect x="72.8" y="300.9" width="12.6" height="2.8" rx="1.4" fill="#0c0c0c" opacity="0.6"/><rect x="72.8" y="305.9" width="12.6" height="2.8" rx="1.4" fill="#0c0c0c" opacity="0.85"/><rect x="86.7" y="300.1" width="14.8" height="3.4" rx="1.7" fill="#0c0c0c" opacity="0.9"/><rect x="86.7" y="305.1" width="14.8" height="3.4" rx="1.7" fill="#0c0c0c" opacity="0.97"/><rect x="103.1" y="300.9" width="11.9" height="2.4" rx="1.2" fill="#0c0c0c" opacity="0.22"/><rect x="103.1" y="305.9" width="11.9" height="2.4" rx="1.2" fill="#0c0c0c" opacity="0.55"/><rect x="118.4" y="301.1" width="11.5" height="2.2" rx="1.1" fill="#0c0c0c" opacity="0.04"/><rect x="118.4" y="306.1" width="11.5" height="2.2" rx="1.1" fill="#0c0c0c" opacity="0.2"/><rect x="133.2" y="301.0" width="10.6" height="2.2" rx="1.1" fill="#0c0c0c" opacity="0.02"/><rect x="133.2" y="306.0" width="10.6" height="2.2" rx="1.1" fill="#0c0c0c" opacity="0.14"/><rect x="177.4" y="300.6" width="10.4" height="2.4" rx="1.2" fill="#0c0c0c" opacity="0.15"/><rect x="177.4" y="305.4" width="10.4" height="2.4" rx="1.2" fill="#0c0c0c" opacity="0.05"/><rect x="192.2" y="300.7" width="10.6" height="2.4" rx="1.2" fill="#0c0c0c" opacity="0.08"/><rect x="192.2" y="305.5" width="10.6" height="2.4" rx="1.2" fill="#0c0c0c" opacity="0.1"/><rect x="208.1" y="300.9" width="9.5" height="2.4" rx="1.2" fill="#0c0c0c" opacity="0.02"/><rect x="208.1" y="305.7" width="9.5" height="2.4" rx="1.2" fill="#0c0c0c" opacity="0.06"/></g></g>
<clipPath id="c7"><rect x="56.3" y="313.25" width="180.00" height="11.50"/></clipPath>
<rect x="56.3" y="313.25" width="180.00" height="11.50" fill="#b8b8b8"/>
<g clip-path="url(#c7)"><g filter="url(#b2)"><rect x="57.6" y="314.1" width="13.9" height="4.0" rx="2.5" fill="#111" opacity="0.14"/><rect x="57.6" y="318.9" width="13.9" height="4.0" rx="2.5" fill="#111" opacity="0.10"/><rect x="72.0" y="314.2" width="14.9" height="4.2" rx="2.5" fill="#111" opacity="0.21"/><rect x="72.0" y="319.0" width="14.9" height="4.2" rx="2.5" fill="#111" opacity="0.21"/><rect x="87.2" y="314.1" width="14.3" height="4.4" rx="2.5" fill="#111" opacity="0.24"/><rect x="87.2" y="318.9" width="14.3" height="4.4" rx="2.5" fill="#111" opacity="0.23"/><rect x="101.5" y="314.2" width="15.0" height="4.2" rx="2.5" fill="#111" opacity="0.21"/><rect x="101.5" y="319.0" width="15.0" height="4.2" rx="2.5" fill="#111" opacity="0.19"/><rect x="117.3" y="314.2" width="13.1" height="4.0" rx="2.5" fill="#111" opacity="0.17"/><rect x="117.3" y="319.0" width="13.1" height="4.0" rx="2.5" fill="#111" opacity="0.17"/><rect x="132.0" y="314.2" width="14.0" height="4.0" rx="2.5" fill="#111" opacity="0.16"/><rect x="132.0" y="319.0" width="14.0" height="4.0" rx="2.5" fill="#111" opacity="0.16"/><rect x="146.0" y="314.1" width="14.2" height="4.2" rx="2.5" fill="#111" opacity="0.17"/><rect x="146.0" y="318.9" width="14.2" height="4.2" rx="2.5" fill="#111" opacity="0.17"/><rect x="160.7" y="313.9" width="14.4" height="4.2" rx="2.5" fill="#111" opacity="0.17"/><rect x="160.7" y="318.7" width="14.4" height="4.2" rx="2.5" fill="#111" opacity="0.17"/><rect x="176.1" y="314.1" width="14.3" height="4.2" rx="2.5" fill="#111" opacity="0.17"/><rect x="176.1" y="318.9" width="14.3" height="4.2" rx="2.5" fill="#111" opacity="0.17"/><rect x="191.6" y="314.2" width="13.3" height="4.2" rx="2.5" fill="#111" opacity="0.17"/><rect x="191.6" y="319.0" width="13.3" height="4.2" rx="2.5" fill="#111" opacity="0.17"/><rect x="205.1" y="313.7" width="14.7" height="4.2" rx="2.5" fill="#111" opacity="0.17"/><rect x="205.1" y="318.5" width="14.7" height="4.2" rx="2.5" fill="#111" opacity="0.17"/><rect x="220.8" y="313.8" width="13.5" height="4.2" rx="2.5" fill="#111" opacity="0.17"/><rect x="220.8" y="318.6" width="13.5" height="4.2" rx="2.5" fill="#111" opacity="0.17"/></g><g filter="url(#b1)"><rect x="58.2" y="315.1" width="12.7" height="2.0" rx="1.0" fill="#0c0c0c" opacity="0.4"/><rect x="58.2" y="319.9" width="12.7" height="2.0" rx="1.0" fill="#0c0c0c" opacity="0.3"/><rect x="72.6" y="315.2" width="13.7" height="2.2" rx="1.1" fill="#0c0c0c" opacity="0.6"/><rect x="72.6" y="320.0" width="13.7" height="2.2" rx="1.1" fill="#0c0c0c" opacity="0.6"/><rect x="87.8" y="315.1" width="13.1" height="2.4" rx="1.2" fill="#0c0c0c" opacity="0.7"/><rect x="87.8" y="319.9" width="13.1" height="2.4" rx="1.2" fill="#0c0c0c" opacity="0.65"/><rect x="102.1" y="315.2" width="13.8" height="2.2" rx="1.1" fill="#0c0c0c" opacity="0.6"/><rect x="102.1" y="320.0" width="13.8" height="2.2" rx="1.1" fill="#0c0c0c" opacity="0.55"/><rect x="117.9" y="315.2" width="11.9" height="2.0" rx="1.0" fill="#0c0c0c" opacity="0.5"/><rect x="117.9" y="320.0" width="11.9" height="2.0" rx="1.0" fill="#0c0c0c" opacity="0.5"/><rect x="132.6" y="315.2" width="12.8" height="2.0" rx="1.0" fill="#0c0c0c" opacity="0.45"/><rect x="132.6" y="320.0" width="12.8" height="2.0" rx="1.0" fill="#0c0c0c" opacity="0.45"/><rect x="146.6" y="315.1" width="13.0" height="2.2" rx="1.1" fill="#0c0c0c" opacity="0.5"/><rect x="146.6" y="319.9" width="13.0" height="2.2" rx="1.1" fill="#0c0c0c" opacity="0.5"/><rect x="161.3" y="314.9" width="13.2" height="2.2" rx="1.1" fill="#0c0c0c" opacity="0.5"/><rect x="161.3" y="319.7" width="13.2" height="2.2" rx="1.1" fill="#0c0c0c" opacity="0.5"/><rect x="176.7" y="315.1" width="13.1" height="2.2" rx="1.1" fill="#0c0c0c" opacity="0.5"/><rect x="176.7" y="319.9" width="13.1" height="2.2" rx="1.1" fill="#0c0c0c" opacity="0.5"/><rect x="192.2" y="315.2" width="12.1" height="2.2" rx="1.1" fill="#0c0c0c" opacity="0.5"/><rect x="192.2" y="320.0" width="12.1" height="2.2" rx="1.1" fill="#0c0c0c" opacity="0.5"/><rect x="205.7" y="314.7" width="13.5" height="2.2" rx="1.1" fill="#0c0c0c" opacity="0.5"/><rect x="205.7" y="319.5" width="13.5" height="2.2" rx="1.1" fill="#0c0c0c" opacity="0.5"/><rect x="221.4" y="314.8" width="12.3" height="2.2" rx="1.1" fill="#0c0c0c" opacity="0.5"/><rect x="221.4" y="319.6" width="12.3" height="2.2" rx="1.1" fill="#0c0c0c" opacity="0.5"/></g></g>
<clipPath id="c8"><rect x="56.3" y="327.75" width="180.00" height="11.50"/></clipPath>
<rect x="56.3" y="327.75" width="180.00" height="11.50" fill="#b5b5b5"/>
<g clip-path="url(#c8)"><g filter="url(#b2)"><rect x="57.2" y="330.1" width="15.5" height="5.8" rx="2.5" fill="#111" opacity="0.33"/><rect x="72.1" y="330.1" width="15.4" height="5.8" rx="2.5" fill="#111" opacity="0.33"/><rect x="86.7" y="330.0" width="14.8" height="5.8" rx="2.5" fill="#111" opacity="0.33"/><rect x="101.6" y="330.0" width="15.3" height="5.8" rx="2.5" fill="#111" opacity="0.33"/><rect x="116.2" y="330.0" width="14.9" height="5.8" rx="2.5" fill="#111" opacity="0.33"/><rect x="130.7" y="330.2" width="15.6" height="5.8" rx="2.5" fill="#111" opacity="0.33"/><rect x="145.9" y="330.0" width="15.8" height="5.8" rx="2.5" fill="#111" opacity="0.33"/><rect x="160.6" y="330.5" width="15.5" height="5.8" rx="2.5" fill="#111" opacity="0.33"/><rect x="175.2" y="330.0" width="15.7" height="5.8" rx="2.5" fill="#111" opacity="0.33"/><rect x="191.1" y="330.3" width="14.4" height="5.8" rx="2.5" fill="#111" opacity="0.33"/><rect x="205.1" y="330.4" width="15.6" height="5.8" rx="2.5" fill="#111" opacity="0.33"/><rect x="220.2" y="330.5" width="15.4" height="5.8" rx="2.5" fill="#111" opacity="0.33"/></g><g filter="url(#b1)"><rect x="57.8" y="331.1" width="14.3" height="3.8" rx="1.9" fill="#0c0c0c" opacity="0.93"/><rect x="72.7" y="331.1" width="14.2" height="3.8" rx="1.9" fill="#0c0c0c" opacity="0.93"/><rect x="87.3" y="331.0" width="13.6" height="3.8" rx="1.9" fill="#0c0c0c" opacity="0.93"/><rect x="102.2" y="331.0" width="14.1" height="3.8" rx="1.9" fill="#0c0c0c" opacity="0.93"/><rect x="116.8" y="331.0" width="13.7" height="3.8" rx="1.9" fill="#0c0c0c" opacity="0.93"/><rect x="131.3" y="331.2" width="14.4" height="3.8" rx="1.9" fill="#0c0c0c" opacity="0.93"/><rect x="146.5" y="331.0" width="14.6" height="3.8" rx="1.9" fill="#0c0c0c" opacity="0.93"/><rect x="161.2" y="331.5" width="14.3" height="3.8" rx="1.9" fill="#0c0c0c" opacity="0.93"/><rect x="175.8" y="331.0" width="14.5" height="3.8" rx="1.9" fill="#0c0c0c" opacity="0.93"/><rect x="191.7" y="331.3" width="13.2" height="3.8" rx="1.9" fill="#0c0c0c" opacity="0.93"/><rect x="205.7" y="331.4" width="14.4" height="3.8" rx="1.9" fill="#0c0c0c" opacity="0.93"/><rect x="220.8" y="331.5" width="14.2" height="3.8" rx="1.9" fill="#0c0c0c" opacity="0.93"/></g></g>
<text x="0" y="0" font-size="8.7" text-anchor="start" fill="#1a1a1a" font-weight="normal" font-style="normal" stroke="#1a1a1a" stroke-width="0.22" transform="translate(239 235.05) scale(0.94 1)" >pBTK (Y223)</text>
<text x="0" y="0" font-size="8.7" text-anchor="start" fill="#1a1a1a" font-weight="normal" font-style="normal" stroke="#1a1a1a" stroke-width="0.22" transform="translate(239 249.25) scale(0.94 1)" >BTK</text>
<text x="0" y="0" font-size="8.7" text-anchor="start" fill="#1a1a1a" font-weight="normal" font-style="normal" stroke="#1a1a1a" stroke-width="0.22" transform="translate(239 263.95) scale(0.94 1)" >pAKT (S473)</text>
<text x="0" y="0" font-size="8.7" text-anchor="start" fill="#1a1a1a" font-weight="normal" font-style="normal" stroke="#1a1a1a" stroke-width="0.22" transform="translate(239 278.45) scale(0.94 1)" >pAKT (T308)</text>
<text x="0" y="0" font-size="8.7" text-anchor="start" fill="#1a1a1a" font-weight="normal" font-style="normal" stroke="#1a1a1a" stroke-width="0.22" transform="translate(239 292.45) scale(0.94 1)" >AKT</text>
<text x="0" y="0" font-size="8.7" text-anchor="start" fill="#1a1a1a" font-weight="normal" font-style="normal" stroke="#1a1a1a" stroke-width="0.22" transform="translate(239 302.95) scale(0.94 1)" >pERK1/2</text>
<text x="0" y="0" font-size="8.7" text-anchor="start" fill="#1a1a1a" font-weight="normal" font-style="normal" stroke="#1a1a1a" stroke-width="0.22" transform="translate(239 313.04999999999995) scale(0.94 1)" >(T202/Y204)</text>
<text x="0" y="0" font-size="8.7" text-anchor="start" fill="#1a1a1a" font-weight="normal" font-style="normal" stroke="#1a1a1a" stroke-width="0.22" transform="translate(239 323.04999999999995) scale(0.94 1)" >ERK1/2</text>
<text x="0" y="0" font-size="8.7" text-anchor="start" fill="#1a1a1a" font-weight="normal" font-style="normal" stroke="#1a1a1a" stroke-width="0.22" transform="translate(239 336.34999999999997) scale(0.94 1)" >GAPDH</text>
<text x="320.8" y="155.0" font-size="6.7" text-anchor="middle" fill="#1a1a1a" font-weight="normal" font-style="normal" stroke="#1a1a1a" stroke-width="0.1" >NALM-21</text>
<text x="356.3" y="155.0" font-size="6.7" text-anchor="middle" fill="#1a1a1a" font-weight="normal" font-style="normal" stroke="#1a1a1a" stroke-width="0.1" >REH</text>
<text x="390.1" y="155.0" font-size="6.7" text-anchor="middle" fill="#1a1a1a" font-weight="normal" font-style="normal" stroke="#1a1a1a" stroke-width="0.1" >RCH-ACV</text>
<text x="422.9" y="155.0" font-size="6.7" text-anchor="middle" fill="#1a1a1a" font-weight="normal" font-style="normal" stroke="#1a1a1a" stroke-width="0.1" >SMS-SB</text>
<line x1="302" y1="159.4" x2="445.5" y2="159.4" stroke="#000" stroke-width="1" />
<line x1="339.2" y1="138" x2="339.2" y2="170.2" stroke="#000" stroke-width="1.1" />
<line x1="373.4" y1="138" x2="373.4" y2="170.2" stroke="#000" stroke-width="1.1" />
<line x1="407.6" y1="138" x2="407.6" y2="170.2" stroke="#000" stroke-width="1.1" />
<text x="270" y="167.2" font-size="8.2" text-anchor="start" fill="#1a1a1a" font-weight="normal" font-style="normal" stroke="#1a1a1a" stroke-width="0.22" >Ibrutinib</text>
<line x1="311.1" y1="164.6" x2="313.5" y2="164.6" stroke="#000" stroke-width="0.7" />
<text x="329.9" y="167.3" font-size="8" text-anchor="middle" fill="#1a1a1a" font-weight="normal" font-style="normal" stroke="#1a1a1a" stroke-width="0.22" >+</text>
<line x1="344.5" y1="164.6" x2="346.9" y2="164.6" stroke="#000" stroke-width="0.7" />
<text x="362.7" y="167.3" font-size="8" text-anchor="middle" fill="#1a1a1a" font-weight="normal" font-style="normal" stroke="#1a1a1a" stroke-width="0.22" >+</text>
<line x1="379.6" y1="164.6" x2="382.0" y2="164.6" stroke="#000" stroke-width="0.7" />
<text x="398.4" y="167.3" font-size="8" text-anchor="middle" fill="#1a1a1a" font-weight="normal" font-style="normal" stroke="#1a1a1a" stroke-width="0.22" >+</text>
<line x1="413.0" y1="164.6" x2="415.4" y2="164.6" stroke="#000" stroke-width="0.7" />
<text x="432.1" y="167.3" font-size="8" text-anchor="middle" fill="#1a1a1a" font-weight="normal" font-style="normal" stroke="#1a1a1a" stroke-width="0.22" >+</text>
<clipPath id="c9"><rect x="303.9" y="171.8" width="137.30" height="11.00"/></clipPath>
<rect x="303.9" y="171.8" width="137.30" height="11.00" fill="#b8b8b8"/>
<g clip-path="url(#c9)"><g filter="url(#b2)"><rect x="303.7" y="175.3" width="16.4" height="5.2" rx="2.5" fill="#111" opacity="0.28"/><rect x="372.4" y="175.3" width="16.4" height="5.4" rx="2.5" fill="#111" opacity="0.28"/><rect x="408.2" y="177.1" width="13.6" height="3.8" rx="2.5" fill="#111" opacity="0.21"/></g><g filter="url(#b1)"><rect x="304.3" y="176.3" width="15.2" height="3.2" rx="1.6" fill="#0c0c0c" opacity="0.95"/><rect x="373.0" y="176.3" width="15.2" height="3.4" rx="1.7" fill="#0c0c0c" opacity="0.95"/><rect x="408.8" y="178.1" width="12.4" height="1.8" rx="0.9" fill="#0c0c0c" opacity="0.7"/></g></g>
<clipPath id="c10"><rect x="303.9" y="185.2" width="137.30" height="10.60"/></clipPath>
<rect x="303.9" y="185.2" width="137.30" height="10.60" fill="#bcbcbc"/>
<g clip-path="url(#c10)"><g filter="url(#b2)"><rect x="304.2" y="189.1" width="14.5" height="4.6" rx="2.5" fill="#111" opacity="0.26"/><rect x="321.2" y="188.3" width="14.8" height="4.4" rx="2.5" fill="#111" opacity="0.22"/><rect x="338.8" y="189.1" width="14.2" height="4.4" rx="2.5" fill="#111" opacity="0.22"/><rect x="355.4" y="189.0" width="14.9" height="4.4" rx="2.5" fill="#111" opacity="0.22"/><rect x="372.7" y="188.8" width="15.6" height="5.0" rx="2.5" fill="#111" opacity="0.27"/><rect x="389.9" y="188.6" width="14.5" height="4.8" rx="2.5" fill="#111" opacity="0.26"/><rect x="406.6" y="188.8" width="15.3" height="4.8" rx="2.5" fill="#111" opacity="0.27"/><rect x="424.3" y="188.7" width="15.3" height="4.6" rx="2.5" fill="#111" opacity="0.26"/></g><g filter="url(#b1)"><rect x="304.8" y="190.1" width="13.3" height="2.6" rx="1.3" fill="#0c0c0c" opacity="0.85"/><rect x="321.8" y="189.3" width="13.6" height="2.4" rx="1.2" fill="#0c0c0c" opacity="0.75"/><rect x="339.4" y="190.1" width="13.0" height="2.4" rx="1.2" fill="#0c0c0c" opacity="0.75"/><rect x="356.0" y="190.0" width="13.7" height="2.4" rx="1.2" fill="#0c0c0c" opacity="0.75"/><rect x="373.3" y="189.8" width="14.4" height="3.0" rx="1.5" fill="#0c0c0c" opacity="0.9"/><rect x="390.5" y="189.6" width="13.3" height="2.8" rx="1.4" fill="#0c0c0c" opacity="0.85"/><rect x="407.2" y="189.8" width="14.1" height="2.8" rx="1.4" fill="#0c0c0c" opacity="0.9"/><rect x="424.9" y="189.7" width="14.1" height="2.6" rx="1.3" fill="#0c0c0c" opacity="0.85"/></g></g>
<clipPath id="c11"><rect x="303.9" y="198.3" width="137.30" height="10.60"/></clipPath>
<rect x="303.9" y="198.3" width="137.30" height="10.60" fill="#c2c2c2"/>
<g clip-path="url(#c11)"><g filter="url(#b2)"><rect x="303.7" y="200.9" width="15.9" height="5.0" rx="2.5" fill="#111" opacity="0.28"/><rect x="322.2" y="201.4" width="13.7" height="4.8" rx="2.5" fill="#111" opacity="0.27"/><rect x="339.3" y="201.6" width="13.1" height="4.2" rx="2.5" fill="#111" opacity="0.21"/><rect x="356.4" y="201.7" width="12.7" height="4.2" rx="2.5" fill="#111" opacity="0.20"/><rect x="373.1" y="201.1" width="15.2" height="5.6" rx="2.5" fill="#111" opacity="0.30"/><rect x="406.5" y="200.9" width="15.4" height="5.2" rx="2.5" fill="#111" opacity="0.29"/></g><g filter="url(#b1)"><rect x="304.3" y="201.9" width="14.7" height="3.0" rx="1.5" fill="#0c0c0c" opacity="0.95"/><rect x="322.8" y="202.4" width="12.5" height="2.8" rx="1.4" fill="#0c0c0c" opacity="0.9"/><rect x="339.9" y="202.6" width="11.9" height="2.2" rx="1.1" fill="#0c0c0c" opacity="0.7"/><rect x="357.0" y="202.7" width="11.5" height="2.2" rx="1.1" fill="#0c0c0c" opacity="0.65"/><rect x="373.7" y="202.1" width="14.0" height="3.6" rx="1.8" fill="#0c0c0c" opacity="1"/><rect x="392.2" y="202.4" width="11.0" height="2.0" rx="1.0" fill="#0c0c0c" opacity="0.04"/><rect x="407.1" y="201.9" width="14.2" height="3.2" rx="1.6" fill="#0c0c0c" opacity="0.97"/></g></g>
<clipPath id="c12"><rect x="303.9" y="211.4" width="137.30" height="11.30"/></clipPath>
<rect x="303.9" y="211.4" width="137.30" height="11.30" fill="#c3c3c3"/>
<g clip-path="url(#c12)"><g filter="url(#b2)"><rect x="305.2" y="214.2" width="13.2" height="5.4" rx="2.5" fill="#111" opacity="0.35"/><rect x="321.8" y="214.4" width="13.7" height="4.6" rx="2.5" fill="#111" opacity="0.27"/><rect x="339.3" y="214.3" width="12.6" height="4.6" rx="2.5" fill="#111" opacity="0.25"/><rect x="355.6" y="214.4" width="14.4" height="5.0" rx="2.5" fill="#111" opacity="0.31"/><rect x="372.8" y="214.1" width="14.9" height="5.4" rx="2.5" fill="#111" opacity="0.37"/><rect x="391.6" y="215.1" width="12.2" height="4.0" rx="2.5" fill="#111" opacity="0.12"/><rect x="407.0" y="214.8" width="14.6" height="5.0" rx="2.5" fill="#111" opacity="0.36"/><rect x="426.5" y="215.5" width="10.9" height="3.8" rx="2.5" fill="#111" opacity="0.12"/></g><g filter="url(#b1)"><rect x="305.8" y="215.2" width="12.0" height="3.4" rx="1.7" fill="#0c0c0c" opacity="0.88"/><rect x="305.7" y="221.0" width="12.2" height="1.1" rx="0.6" fill="#0c0c0c" opacity="0.28"/><rect x="322.4" y="215.4" width="12.5" height="2.6" rx="1.3" fill="#0c0c0c" opacity="0.68"/><rect x="321.9" y="221.0" width="13.5" height="1.1" rx="0.6" fill="#0c0c0c" opacity="0.28"/><rect x="339.9" y="215.3" width="11.4" height="2.6" rx="1.3" fill="#0c0c0c" opacity="0.62"/><rect x="339.4" y="221.0" width="12.4" height="1.1" rx="0.6" fill="#0c0c0c" opacity="0.25"/><rect x="356.2" y="215.4" width="13.2" height="3.0" rx="1.5" fill="#0c0c0c" opacity="0.78"/><rect x="356.0" y="221.3" width="13.6" height="1.1" rx="0.6" fill="#0c0c0c" opacity="0.28"/><rect x="373.4" y="215.1" width="13.7" height="3.4" rx="1.7" fill="#0c0c0c" opacity="0.93"/><rect x="374.4" y="221.2" width="11.7" height="1.0" rx="0.5" fill="#0c0c0c" opacity="0.18"/><rect x="392.2" y="216.1" width="11.0" height="2.0" rx="1.0" fill="#0c0c0c" opacity="0.3"/><rect x="407.6" y="215.8" width="13.4" height="3.0" rx="1.5" fill="#0c0c0c" opacity="0.9"/><rect x="408.2" y="221.5" width="12.2" height="1.0" rx="0.5" fill="#0c0c0c" opacity="0.15"/><rect x="427.1" y="216.5" width="9.7" height="1.8" rx="0.9" fill="#0c0c0c" opacity="0.3"/></g></g>
<clipPath id="c13"><rect x="303.9" y="224.6" width="137.30" height="10.80"/></clipPath>
<rect x="303.9" y="224.6" width="137.30" height="10.80" fill="#9a9a9a"/>
<g clip-path="url(#c13)"><g filter="url(#b2)"><rect x="303.3" y="226.0" width="17.3" height="6.2" rx="2.5" fill="#111" opacity="0.41"/><rect x="320.3" y="225.5" width="16.8" height="6.2" rx="2.5" fill="#111" opacity="0.41"/><rect x="337.4" y="225.9" width="16.4" height="6.2" rx="2.5" fill="#111" opacity="0.41"/><rect x="355.0" y="225.6" width="17.2" height="6.2" rx="2.5" fill="#111" opacity="0.41"/><rect x="372.1" y="225.8" width="16.4" height="6.2" rx="2.5" fill="#111" opacity="0.41"/><rect x="389.4" y="225.7" width="16.7" height="6.2" rx="2.5" fill="#111" opacity="0.41"/><rect x="406.2" y="225.5" width="16.7" height="6.2" rx="2.5" fill="#111" opacity="0.41"/><rect x="423.0" y="225.7" width="16.4" height="6.2" rx="2.5" fill="#111" opacity="0.41"/></g><g filter="url(#b1)"><rect x="303.9" y="227.0" width="16.1" height="4.2" rx="2.1" fill="#0c0c0c" opacity="0.9"/><rect x="320.9" y="226.5" width="15.6" height="4.2" rx="2.1" fill="#0c0c0c" opacity="0.9"/><rect x="338.0" y="226.9" width="15.2" height="4.2" rx="2.1" fill="#0c0c0c" opacity="0.9"/><rect x="355.6" y="226.6" width="16.0" height="4.2" rx="2.1" fill="#0c0c0c" opacity="0.9"/><rect x="372.7" y="226.8" width="15.2" height="4.2" rx="2.1" fill="#0c0c0c" opacity="0.9"/><rect x="390.0" y="226.7" width="15.5" height="4.2" rx="2.1" fill="#0c0c0c" opacity="0.9"/><rect x="406.8" y="226.5" width="15.5" height="4.2" rx="2.1" fill="#0c0c0c" opacity="0.9"/><rect x="423.6" y="226.7" width="15.2" height="4.2" rx="2.1" fill="#0c0c0c" opacity="0.9"/></g></g>
<clipPath id="c14"><rect x="303.9" y="237.4" width="137.30" height="12.60"/></clipPath>
<rect x="303.9" y="237.4" width="137.30" height="12.60" fill="#bababa"/>
<g clip-path="url(#c14)"><g filter="url(#b2)"><rect x="302.9" y="238.1" width="16.8" height="5.8" rx="2.5" fill="#111" opacity="0.30"/><rect x="302.7" y="243.0" width="17.2" height="7.2" rx="2.5" fill="#111" opacity="0.30"/><rect x="319.6" y="237.7" width="18.1" height="5.8" rx="2.5" fill="#111" opacity="0.30"/><rect x="319.4" y="242.6" width="18.5" height="7.2" rx="2.5" fill="#111" opacity="0.30"/><rect x="338.5" y="238.9" width="15.0" height="3.8" rx="2.5" fill="#111" opacity="0.18"/><rect x="337.7" y="242.8" width="16.6" height="6.2" rx="2.5" fill="#111" opacity="0.28"/><rect x="356.0" y="238.9" width="15.0" height="3.8" rx="2.5" fill="#111" opacity="0.18"/><rect x="355.2" y="242.8" width="16.6" height="6.2" rx="2.5" fill="#111" opacity="0.28"/><rect x="372.6" y="239.1" width="15.9" height="4.6" rx="2.5" fill="#111" opacity="0.24"/><rect x="372.3" y="243.8" width="16.5" height="5.6" rx="2.5" fill="#111" opacity="0.28"/><rect x="391.2" y="238.9" width="13.5" height="4.0" rx="2.5" fill="#111" opacity="0.17"/><rect x="390.9" y="243.6" width="14.1" height="4.8" rx="2.5" fill="#111" opacity="0.24"/><rect x="406.8" y="238.5" width="16.0" height="5.2" rx="2.5" fill="#111" opacity="0.28"/><rect x="406.8" y="243.7" width="16.0" height="5.4" rx="2.5" fill="#111" opacity="0.28"/><rect x="425.0" y="239.1" width="14.3" height="4.0" rx="2.5" fill="#111" opacity="0.14"/><rect x="424.8" y="244.1" width="14.7" height="4.4" rx="2.5" fill="#111" opacity="0.19"/></g><g filter="url(#b1)"><rect x="303.5" y="239.1" width="15.6" height="3.8" rx="1.9" fill="#0c0c0c" opacity="1"/><rect x="303.3" y="244.0" width="16.0" height="5.2" rx="2.6" fill="#0c0c0c" opacity="1"/><rect x="320.2" y="238.7" width="16.9" height="3.8" rx="1.9" fill="#0c0c0c" opacity="1"/><rect x="320.0" y="243.6" width="17.3" height="5.2" rx="2.6" fill="#0c0c0c" opacity="1"/><rect x="339.1" y="239.9" width="13.8" height="1.8" rx="0.9" fill="#0c0c0c" opacity="0.6"/><rect x="338.3" y="243.8" width="15.4" height="4.2" rx="2.1" fill="#0c0c0c" opacity="0.95"/><rect x="356.6" y="239.9" width="13.8" height="1.8" rx="0.9" fill="#0c0c0c" opacity="0.6"/><rect x="355.8" y="243.8" width="15.4" height="4.2" rx="2.1" fill="#0c0c0c" opacity="0.95"/><rect x="373.2" y="240.1" width="14.7" height="2.6" rx="1.3" fill="#0c0c0c" opacity="0.8"/><rect x="372.9" y="244.8" width="15.3" height="3.6" rx="1.8" fill="#0c0c0c" opacity="0.93"/><rect x="391.8" y="239.9" width="12.3" height="2.0" rx="1.0" fill="#0c0c0c" opacity="0.55"/><rect x="391.5" y="244.6" width="12.9" height="2.8" rx="1.4" fill="#0c0c0c" opacity="0.8"/><rect x="407.4" y="239.5" width="14.8" height="3.2" rx="1.6" fill="#0c0c0c" opacity="0.95"/><rect x="407.4" y="244.7" width="14.8" height="3.4" rx="1.7" fill="#0c0c0c" opacity="0.92"/><rect x="425.6" y="240.1" width="13.1" height="2.0" rx="1.0" fill="#0c0c0c" opacity="0.45"/><rect x="425.4" y="245.1" width="13.5" height="2.4" rx="1.2" fill="#0c0c0c" opacity="0.62"/></g></g>
<clipPath id="c15"><rect x="303.9" y="252.3" width="137.30" height="10.80"/></clipPath>
<rect x="303.9" y="252.3" width="137.30" height="10.80" fill="#bfbfbf"/>
<g clip-path="url(#c15)"><g filter="url(#b2)"><rect x="304.1" y="255.4" width="15.5" height="4.8" rx="2.5" fill="#111" opacity="0.27"/><rect x="321.8" y="255.1" width="14.7" height="4.8" rx="2.5" fill="#111" opacity="0.27"/><rect x="339.0" y="256.1" width="14.3" height="4.2" rx="2.5" fill="#111" opacity="0.21"/><rect x="356.4" y="255.6" width="13.8" height="4.4" rx="2.5" fill="#111" opacity="0.24"/><rect x="373.5" y="255.5" width="12.9" height="3.8" rx="2.5" fill="#111" opacity="0.15"/><rect x="390.1" y="255.5" width="14.3" height="4.4" rx="2.5" fill="#111" opacity="0.22"/><rect x="407.5" y="255.6" width="13.3" height="4.0" rx="2.5" fill="#111" opacity="0.20"/><rect x="425.3" y="255.6" width="12.8" height="3.8" rx="2.5" fill="#111" opacity="0.12"/></g><g filter="url(#b1)"><rect x="304.7" y="256.4" width="14.3" height="2.8" rx="1.4" fill="#0c0c0c" opacity="0.9"/><rect x="322.4" y="256.1" width="13.5" height="2.8" rx="1.4" fill="#0c0c0c" opacity="0.9"/><rect x="339.6" y="257.1" width="13.1" height="2.2" rx="1.1" fill="#0c0c0c" opacity="0.7"/><rect x="357.0" y="256.6" width="12.6" height="2.4" rx="1.2" fill="#0c0c0c" opacity="0.8"/><rect x="374.1" y="256.5" width="11.7" height="1.8" rx="0.9" fill="#0c0c0c" opacity="0.5"/><rect x="390.7" y="256.5" width="13.1" height="2.4" rx="1.2" fill="#0c0c0c" opacity="0.75"/><rect x="408.1" y="256.6" width="12.1" height="2.0" rx="1.0" fill="#0c0c0c" opacity="0.65"/><rect x="425.9" y="256.6" width="11.6" height="1.8" rx="0.9" fill="#0c0c0c" opacity="0.4"/></g></g>
<clipPath id="c16"><rect x="303.9" y="265.4" width="137.30" height="10.80"/></clipPath>
<rect x="303.9" y="265.4" width="137.30" height="10.80" fill="#c1c1c1"/>
<g clip-path="url(#c16)"><g filter="url(#b2)"><rect x="303.8" y="267.8" width="15.9" height="5.4" rx="2.5" fill="#111" opacity="0.28"/><rect x="321.3" y="268.4" width="14.7" height="5.4" rx="2.5" fill="#111" opacity="0.28"/><rect x="337.9" y="268.2" width="15.9" height="5.4" rx="2.5" fill="#111" opacity="0.35"/><rect x="355.5" y="267.8" width="14.9" height="5.6" rx="2.5" fill="#111" opacity="0.36"/><rect x="373.6" y="268.3" width="13.4" height="4.8" rx="2.5" fill="#111" opacity="0.26"/><rect x="389.4" y="267.9" width="15.4" height="5.4" rx="2.5" fill="#111" opacity="0.37"/><rect x="408.0" y="268.5" width="13.5" height="4.4" rx="2.5" fill="#111" opacity="0.22"/><rect x="423.9" y="268.3" width="15.0" height="4.8" rx="2.5" fill="#111" opacity="0.30"/></g><g filter="url(#b1)"><rect x="304.4" y="268.8" width="14.7" height="3.4" rx="1.7" fill="#0c0c0c" opacity="0.7"/><rect x="321.9" y="269.4" width="13.5" height="3.4" rx="1.7" fill="#0c0c0c" opacity="0.7"/><rect x="338.5" y="269.2" width="14.7" height="3.4" rx="1.7" fill="#0c0c0c" opacity="0.88"/><rect x="356.1" y="268.8" width="13.7" height="3.6" rx="1.8" fill="#0c0c0c" opacity="0.9"/><rect x="374.2" y="269.3" width="12.2" height="2.8" rx="1.4" fill="#0c0c0c" opacity="0.65"/><rect x="390.0" y="268.9" width="14.2" height="3.4" rx="1.7" fill="#0c0c0c" opacity="0.93"/><rect x="408.6" y="269.5" width="12.3" height="2.4" rx="1.2" fill="#0c0c0c" opacity="0.55"/><rect x="424.5" y="269.3" width="13.8" height="2.8" rx="1.4" fill="#0c0c0c" opacity="0.75"/></g></g>
<clipPath id="c17"><rect x="303.9" y="278.5" width="137.30" height="10.90"/></clipPath>
<rect x="303.9" y="278.5" width="137.30" height="10.90" fill="#bfbfbf"/>
<g clip-path="url(#c17)"><g filter="url(#b2)"><rect x="305.5" y="281.7" width="12.9" height="4.2" rx="2.5" fill="#111" opacity="0.18"/><rect x="321.6" y="281.7" width="13.6" height="4.2" rx="2.5" fill="#111" opacity="0.20"/><rect x="408.7" y="282.5" width="12.5" height="4.0" rx="2.5" fill="#111" opacity="0.21"/></g><g filter="url(#b1)"><rect x="306.1" y="282.7" width="11.7" height="2.2" rx="1.1" fill="#0c0c0c" opacity="0.6"/><rect x="322.2" y="282.7" width="12.4" height="2.2" rx="1.1" fill="#0c0c0c" opacity="0.65"/><rect x="340.7" y="282.7" width="10.4" height="2.0" rx="1.0" fill="#0c0c0c" opacity="0.1"/><rect x="358.0" y="282.6" width="11.2" height="2.0" rx="1.0" fill="#0c0c0c" opacity="0.12"/><rect x="375.0" y="280.3" width="10.6" height="2.0" rx="1.0" fill="#0c0c0c" opacity="0.1"/><rect x="375.0" y="283.5" width="10.6" height="2.0" rx="1.0" fill="#0c0c0c" opacity="0.15"/><rect x="391.7" y="282.9" width="11.1" height="2.0" rx="1.0" fill="#0c0c0c" opacity="0.05"/><rect x="409.3" y="283.5" width="11.3" height="2.0" rx="1.0" fill="#0c0c0c" opacity="0.7"/></g></g>
<clipPath id="c18"><rect x="303.9" y="291.4" width="137.30" height="10.80"/></clipPath>
<rect x="303.9" y="291.4" width="137.30" height="10.80" fill="#b5b5b5"/>
<g clip-path="url(#c18)"><g filter="url(#b2)"><rect x="305.3" y="294.5" width="12.5" height="5.2" rx="2.5" fill="#111" opacity="0.09"/><rect x="356.0" y="294.2" width="13.6" height="5.2" rx="2.5" fill="#111" opacity="0.12"/></g><g filter="url(#b2)"><rect x="305.9" y="295.5" width="11.3" height="3.2" rx="1.6" fill="#0c0c0c" opacity="0.3"/><rect x="322.6" y="295.3" width="11.6" height="3.0" rx="1.5" fill="#0c0c0c" opacity="0.28"/><rect x="339.8" y="295.3" width="11.5" height="2.8" rx="1.4" fill="#0c0c0c" opacity="0.25"/><rect x="356.6" y="295.2" width="12.4" height="3.2" rx="1.6" fill="#0c0c0c" opacity="0.4"/><rect x="374.3" y="296.0" width="11.6" height="2.0" rx="1.0" fill="#0c0c0c" opacity="0.04"/><rect x="392.4" y="296.0" width="10.5" height="2.0" rx="1.0" fill="#0c0c0c" opacity="0.05"/></g></g>
<clipPath id="c19"><rect x="303.9" y="304.6" width="137.30" height="10.80"/></clipPath>
<rect x="303.9" y="304.6" width="137.30" height="10.80" fill="#b9b9b9"/>
<g clip-path="url(#c19)"><g filter="url(#b2)"><rect x="304.7" y="307.8" width="14.7" height="4.8" rx="2.5" fill="#111" opacity="0.28"/><rect x="322.1" y="308.1" width="13.9" height="4.6" rx="2.5" fill="#111" opacity="0.28"/><rect x="337.5" y="306.8" width="16.7" height="6.8" rx="2.5" fill="#111" opacity="0.30"/><rect x="354.9" y="306.3" width="16.6" height="6.8" rx="2.5" fill="#111" opacity="0.30"/><rect x="370.6" y="306.2" width="18.7" height="7.8" rx="2.5" fill="#111" opacity="0.30"/><rect x="389.4" y="307.0" width="16.3" height="6.6" rx="2.5" fill="#111" opacity="0.30"/><rect x="406.9" y="307.2" width="14.9" height="5.2" rx="2.5" fill="#111" opacity="0.29"/><rect x="425.7" y="308.4" width="12.4" height="4.2" rx="2.5" fill="#111" opacity="0.26"/></g><g filter="url(#b1)"><rect x="305.3" y="308.8" width="13.5" height="2.8" rx="1.4" fill="#0c0c0c" opacity="0.95"/><rect x="322.7" y="309.1" width="12.7" height="2.6" rx="1.3" fill="#0c0c0c" opacity="0.93"/><rect x="338.1" y="307.8" width="15.5" height="4.8" rx="2.4" fill="#0c0c0c" opacity="1"/><rect x="355.5" y="307.3" width="15.4" height="4.8" rx="2.4" fill="#0c0c0c" opacity="1"/><rect x="371.2" y="307.2" width="17.5" height="5.8" rx="2.9" fill="#0c0c0c" opacity="1"/><rect x="390.0" y="308.0" width="15.1" height="4.6" rx="2.3" fill="#0c0c0c" opacity="1"/><rect x="407.5" y="308.2" width="13.7" height="3.2" rx="1.6" fill="#0c0c0c" opacity="0.97"/><rect x="426.3" y="309.4" width="11.2" height="2.2" rx="1.1" fill="#0c0c0c" opacity="0.85"/></g></g>
<clipPath id="c20"><rect x="303.9" y="317.4" width="137.30" height="11.00"/></clipPath>
<rect x="303.9" y="317.4" width="137.30" height="11.00" fill="#b9b9b9"/>
<g clip-path="url(#c20)"><g filter="url(#b2)"><rect x="304.6" y="321.3" width="14.1" height="4.8" rx="2.5" fill="#111" opacity="0.26"/><rect x="321.0" y="321.1" width="14.7" height="4.8" rx="2.5" fill="#111" opacity="0.26"/><rect x="339.4" y="320.7" width="13.8" height="4.8" rx="2.5" fill="#111" opacity="0.26"/><rect x="356.3" y="320.3" width="13.7" height="4.8" rx="2.5" fill="#111" opacity="0.26"/><rect x="373.3" y="320.2" width="13.5" height="4.8" rx="2.5" fill="#111" opacity="0.26"/><rect x="390.1" y="320.6" width="14.1" height="4.8" rx="2.5" fill="#111" opacity="0.26"/><rect x="408.1" y="320.7" width="13.9" height="4.6" rx="2.5" fill="#111" opacity="0.26"/><rect x="425.0" y="320.3" width="13.9" height="4.6" rx="2.5" fill="#111" opacity="0.26"/></g><g filter="url(#b1)"><rect x="305.2" y="322.3" width="12.9" height="2.8" rx="1.4" fill="#0c0c0c" opacity="0.85"/><rect x="321.6" y="322.1" width="13.5" height="2.8" rx="1.4" fill="#0c0c0c" opacity="0.85"/><rect x="340.0" y="321.7" width="12.6" height="2.8" rx="1.4" fill="#0c0c0c" opacity="0.88"/><rect x="356.9" y="321.3" width="12.5" height="2.8" rx="1.4" fill="#0c0c0c" opacity="0.88"/><rect x="373.9" y="321.2" width="12.3" height="2.8" rx="1.4" fill="#0c0c0c" opacity="0.88"/><rect x="390.7" y="321.6" width="12.9" height="2.8" rx="1.4" fill="#0c0c0c" opacity="0.88"/><rect x="408.7" y="321.7" width="12.7" height="2.6" rx="1.3" fill="#0c0c0c" opacity="0.85"/><rect x="425.6" y="321.3" width="12.7" height="2.6" rx="1.3" fill="#0c0c0c" opacity="0.85"/></g></g>
<clipPath id="c21"><rect x="303.9" y="330.5" width="137.30" height="11.30"/></clipPath>
<rect x="303.9" y="330.5" width="137.30" height="11.30" fill="#b2b2b2"/>
<g clip-path="url(#c21)"><g filter="url(#b2)"><rect x="303.0" y="333.2" width="16.7" height="6.2" rx="2.5" fill="#111" opacity="0.38"/><rect x="320.1" y="333.4" width="16.9" height="6.2" rx="2.5" fill="#111" opacity="0.38"/><rect x="338.0" y="333.4" width="16.6" height="6.2" rx="2.5" fill="#111" opacity="0.38"/><rect x="355.2" y="333.2" width="16.6" height="6.2" rx="2.5" fill="#111" opacity="0.38"/><rect x="371.4" y="333.2" width="17.5" height="6.2" rx="2.5" fill="#111" opacity="0.38"/><rect x="388.6" y="333.5" width="17.9" height="6.2" rx="2.5" fill="#111" opacity="0.38"/><rect x="406.2" y="333.4" width="17.2" height="6.2" rx="2.5" fill="#111" opacity="0.38"/><rect x="422.9" y="333.2" width="17.0" height="6.2" rx="2.5" fill="#111" opacity="0.38"/></g><g filter="url(#b1)"><rect x="303.6" y="334.2" width="15.5" height="4.2" rx="2.1" fill="#0c0c0c" opacity="0.95"/><rect x="320.7" y="334.4" width="15.7" height="4.2" rx="2.1" fill="#0c0c0c" opacity="0.95"/><rect x="338.6" y="334.4" width="15.4" height="4.2" rx="2.1" fill="#0c0c0c" opacity="0.95"/><rect x="355.8" y="334.2" width="15.4" height="4.2" rx="2.1" fill="#0c0c0c" opacity="0.95"/><rect x="372.0" y="334.2" width="16.3" height="4.2" rx="2.1" fill="#0c0c0c" opacity="0.95"/><rect x="389.2" y="334.5" width="16.7" height="4.2" rx="2.1" fill="#0c0c0c" opacity="0.95"/><rect x="406.8" y="334.4" width="16.0" height="4.2" rx="2.1" fill="#0c0c0c" opacity="0.95"/><rect x="423.5" y="334.2" width="15.8" height="4.2" rx="2.1" fill="#0c0c0c" opacity="0.95"/></g></g>
<text x="0" y="0" font-size="8.6" text-anchor="start" fill="#1a1a1a" font-weight="normal" font-style="normal" stroke="#1a1a1a" stroke-width="0.22" transform="translate(444.6 181.35000000000002) scale(0.94 1)" >pBTK (Y223)</text>
<text x="0" y="0" font-size="8.6" text-anchor="start" fill="#1a1a1a" font-weight="normal" font-style="normal" stroke="#1a1a1a" stroke-width="0.22" transform="translate(444.6 193.65) scale(0.94 1)" >BTK</text>
<text x="0" y="0" font-size="8.6" text-anchor="start" fill="#1a1a1a" font-weight="normal" font-style="normal" stroke="#1a1a1a" stroke-width="0.22" transform="translate(444.6 206.55) scale(0.94 1)" >pAKT (S473)</text>
<text x="0" y="0" font-size="8.6" text-anchor="start" fill="#1a1a1a" font-weight="normal" font-style="normal" stroke="#1a1a1a" stroke-width="0.22" transform="translate(444.6 219.85000000000002) scale(0.94 1)" >pAKT (T308)</text>
<text x="0" y="0" font-size="8.6" text-anchor="start" fill="#1a1a1a" font-weight="normal" font-style="normal" stroke="#1a1a1a" stroke-width="0.22" transform="translate(444.6 232.85000000000002) scale(0.94 1)" >AKT</text>
<text x="0" y="0" font-size="8.6" text-anchor="start" fill="#1a1a1a" font-weight="normal" font-style="normal" stroke="#1a1a1a" stroke-width="0.22" transform="translate(444.6 241.55) scale(0.94 1)" >pFOXO3a (Thr32)/</text>
<text x="0" y="0" font-size="8.6" text-anchor="start" fill="#1a1a1a" font-weight="normal" font-style="normal" stroke="#1a1a1a" stroke-width="0.22" transform="translate(444.6 251.35000000000002) scale(0.94 1)" >pFOXO1 (Thr24)</text>
<text x="0" y="0" font-size="8.6" text-anchor="start" fill="#1a1a1a" font-weight="normal" font-style="normal" stroke="#1a1a1a" stroke-width="0.22" transform="translate(444.6 260.85) scale(0.94 1)" >FOXO3a</text>
<text x="0" y="0" font-size="8.6" text-anchor="start" fill="#1a1a1a" font-weight="normal" font-style="normal" stroke="#1a1a1a" stroke-width="0.22" transform="translate(444.6 273.05) scale(0.94 1)" >FOXO1</text>
<text x="0" y="0" font-size="8.6" text-anchor="start" fill="#1a1a1a" font-weight="normal" font-style="normal" stroke="#1a1a1a" stroke-width="0.22" transform="translate(444.6 286.35) scale(0.94 1)" >pFOXO4 (Thr28)</text>
<text x="0" y="0" font-size="8.6" text-anchor="start" fill="#1a1a1a" font-weight="normal" font-style="normal" stroke="#1a1a1a" stroke-width="0.22" transform="translate(444.6 300.05) scale(0.94 1)" >FOXO4</text>
<text x="0" y="0" font-size="8.6" text-anchor="start" fill="#1a1a1a" font-weight="normal" font-style="normal" stroke="#1a1a1a" stroke-width="0.22" transform="translate(444.6 312.65000000000003) scale(0.94 1)" >pS6 (S235/236)</text>
<text x="0" y="0" font-size="8.6" text-anchor="start" fill="#1a1a1a" font-weight="normal" font-style="normal" stroke="#1a1a1a" stroke-width="0.22" transform="translate(444.6 325.65000000000003) scale(0.94 1)" >S6</text>
<text x="0" y="0" font-size="8.6" text-anchor="start" fill="#1a1a1a" font-weight="normal" font-style="normal" stroke="#1a1a1a" stroke-width="0.22" transform="translate(444.6 338.55) scale(0.94 1)" >GAPDH</text>
<text x="0" y="0" font-size="9.2" text-anchor="middle" fill="#1a1a1a" font-weight="normal" font-style="normal" stroke="#1a1a1a" stroke-width="0.22" transform="translate(72.0 379.2) scale(0.88 1)" >NALM-21</text>
<text x="0" y="0" font-size="9.2" text-anchor="middle" fill="#1a1a1a" font-weight="normal" font-style="normal" stroke="#1a1a1a" stroke-width="0.22" transform="translate(106.7 379.2) scale(0.88 1)" >REH</text>
<text x="0" y="0" font-size="9.2" text-anchor="middle" fill="#1a1a1a" font-weight="normal" font-style="normal" stroke="#1a1a1a" stroke-width="0.22" transform="translate(139.35 379.2) scale(0.88 1)" >RCH-ACV</text>
<text x="0" y="0" font-size="9.2" text-anchor="middle" fill="#1a1a1a" font-weight="normal" font-style="normal" stroke="#1a1a1a" stroke-width="0.22" transform="translate(175.15 379.2) scale(0.88 1)" >SMS-SB</text>
<text x="0" y="0" font-size="9.2" text-anchor="middle" fill="#1a1a1a" font-weight="normal" font-style="normal" stroke="#1a1a1a" stroke-width="0.22" transform="translate(209.4 379.2) scale(0.88 1)" >Kasumi-2</text>
<line x1="53.8" y1="382.3" x2="227.8" y2="382.3" stroke="#000" stroke-width="1" />
<line x1="90.3" y1="366.7" x2="90.3" y2="393.5" stroke="#000" stroke-width="1.1" />
<line x1="120.1" y1="366.7" x2="120.1" y2="393.5" stroke="#000" stroke-width="1.1" />
<line x1="158.8" y1="366.7" x2="158.8" y2="393.5" stroke="#000" stroke-width="1.1" />
<line x1="191.3" y1="366.7" x2="191.3" y2="393.5" stroke="#000" stroke-width="1.1" />
<text x="20.8" y="391" font-size="8.2" text-anchor="start" fill="#1a1a1a" font-weight="normal" font-style="normal" stroke="#1a1a1a" stroke-width="0.22" >Ibrutinib</text>
<line x1="62.0" y1="388.0" x2="64.4" y2="388.0" stroke="#000" stroke-width="0.7" />
<text x="80.6" y="391" font-size="8.4" text-anchor="middle" fill="#1a1a1a" font-weight="normal" font-style="normal" stroke="#1a1a1a" stroke-width="0.22" >+</text>
<line x1="96.1" y1="388.0" x2="98.5" y2="388.0" stroke="#000" stroke-width="0.7" />
<text x="113.8" y="391" font-size="8.4" text-anchor="middle" fill="#1a1a1a" font-weight="normal" font-style="normal" stroke="#1a1a1a" stroke-width="0.22" >+</text>
<line x1="132.8" y1="388.0" x2="135.2" y2="388.0" stroke="#000" stroke-width="0.7" />
<text x="151.4" y="391" font-size="8.4" text-anchor="middle" fill="#1a1a1a" font-weight="normal" font-style="normal" stroke="#1a1a1a" stroke-width="0.22" >+</text>
<line x1="165.0" y1="388.0" x2="167.39999999999998" y2="388.0" stroke="#000" stroke-width="0.7" />
<text x="183.7" y="391" font-size="8.4" text-anchor="middle" fill="#1a1a1a" font-weight="normal" font-style="normal" stroke="#1a1a1a" stroke-width="0.22" >+</text>
<line x1="199.0" y1="388.0" x2="201.39999999999998" y2="388.0" stroke="#000" stroke-width="0.7" />
<text x="217.3" y="391" font-size="8.4" text-anchor="middle" fill="#1a1a1a" font-weight="normal" font-style="normal" stroke="#1a1a1a" stroke-width="0.22" >+</text>
<clipPath id="c22"><rect x="54.9" y="396.2" width="171.90" height="10.80"/></clipPath>
<rect x="54.9" y="396.2" width="171.90" height="10.80" fill="#b1b1b1"/>
<g clip-path="url(#c22)"><g filter="url(#b2)"><rect x="56.2" y="399.0" width="14.2" height="4.5" rx="2.5" fill="#111" opacity="0.27"/><rect x="123.1" y="398.8" width="14.9" height="5.0" rx="2.5" fill="#111" opacity="0.28"/><rect x="158.3" y="399.6" width="12.6" height="3.7" rx="2.5" fill="#111" opacity="0.18"/></g><g filter="url(#b1)"><rect x="56.8" y="400.0" width="13.0" height="2.5" rx="1.2" fill="#0c0c0c" opacity="0.9"/><rect x="123.7" y="399.8" width="13.7" height="3.0" rx="1.5" fill="#0c0c0c" opacity="0.95"/><rect x="158.9" y="400.6" width="11.4" height="1.7" rx="0.8" fill="#0c0c0c" opacity="0.6"/><rect x="193.3" y="400.6" width="10.6" height="2.0" rx="1.0" fill="#0c0c0c" opacity="0.04"/></g></g>
<clipPath id="c23"><rect x="54.9" y="410.5" width="171.90" height="10.80"/></clipPath>
<rect x="54.9" y="410.5" width="171.90" height="10.80" fill="#bababa"/>
<g clip-path="url(#c23)"><g filter="url(#b2)"><rect x="56.1" y="413.9" width="14.4" height="4.7" rx="2.5" fill="#111" opacity="0.28"/><rect x="72.7" y="413.8" width="14.7" height="4.7" rx="2.5" fill="#111" opacity="0.27"/><rect x="89.8" y="413.6" width="14.7" height="4.6" rx="2.5" fill="#111" opacity="0.26"/><rect x="107.0" y="413.4" width="13.8" height="4.4" rx="2.5" fill="#111" opacity="0.26"/><rect x="123.0" y="413.9" width="15.2" height="5.0" rx="2.5" fill="#111" opacity="0.28"/><rect x="140.2" y="413.9" width="15.5" height="4.8" rx="2.5" fill="#111" opacity="0.28"/><rect x="157.1" y="414.0" width="15.3" height="4.8" rx="2.5" fill="#111" opacity="0.28"/><rect x="175.0" y="413.6" width="14.6" height="4.6" rx="2.5" fill="#111" opacity="0.27"/><rect x="190.5" y="413.8" width="15.8" height="5.2" rx="2.5" fill="#111" opacity="0.28"/><rect x="207.9" y="412.8" width="16.3" height="5.4" rx="2.5" fill="#111" opacity="0.28"/></g><g filter="url(#b1)"><rect x="56.7" y="414.9" width="13.2" height="2.7" rx="1.4" fill="#0c0c0c" opacity="0.92"/><rect x="73.3" y="414.8" width="13.5" height="2.7" rx="1.4" fill="#0c0c0c" opacity="0.9"/><rect x="90.4" y="414.6" width="13.5" height="2.6" rx="1.3" fill="#0c0c0c" opacity="0.88"/><rect x="107.6" y="414.4" width="12.6" height="2.4" rx="1.2" fill="#0c0c0c" opacity="0.88"/><rect x="123.6" y="414.9" width="14.0" height="3.0" rx="1.5" fill="#0c0c0c" opacity="0.92"/><rect x="140.8" y="414.9" width="14.3" height="2.8" rx="1.4" fill="#0c0c0c" opacity="0.92"/><rect x="157.7" y="415.0" width="14.1" height="2.8" rx="1.4" fill="#0c0c0c" opacity="0.92"/><rect x="175.6" y="414.6" width="13.4" height="2.6" rx="1.3" fill="#0c0c0c" opacity="0.9"/><rect x="191.1" y="414.8" width="14.6" height="3.2" rx="1.6" fill="#0c0c0c" opacity="0.93"/><rect x="208.5" y="413.8" width="15.1" height="3.4" rx="1.7" fill="#0c0c0c" opacity="0.95"/></g></g>
<clipPath id="c24"><rect x="54.9" y="425" width="171.90" height="10.80"/></clipPath>
<rect x="54.9" y="425" width="171.90" height="10.80" fill="#c2c2c2"/>
<g clip-path="url(#c24)"><g filter="url(#b2)"><rect x="54.8" y="426.7" width="16.9" height="8.0" rx="2.5" fill="#111" opacity="0.30"/><rect x="72.8" y="426.5" width="15.4" height="7.8" rx="2.5" fill="#111" opacity="0.30"/><rect x="91.4" y="428.5" width="11.1" height="3.8" rx="2.5" fill="#111" opacity="0.15"/><rect x="108.0" y="429.0" width="11.8" height="4.0" rx="2.5" fill="#111" opacity="0.18"/><rect x="124.0" y="428.3" width="13.2" height="4.4" rx="2.5" fill="#111" opacity="0.22"/><rect x="141.5" y="428.4" width="13.2" height="4.6" rx="2.5" fill="#111" opacity="0.23"/><rect x="158.1" y="428.4" width="13.1" height="4.8" rx="2.5" fill="#111" opacity="0.25"/><rect x="174.8" y="428.5" width="13.6" height="4.8" rx="2.5" fill="#111" opacity="0.24"/><rect x="192.0" y="428.2" width="14.0" height="5.0" rx="2.5" fill="#111" opacity="0.26"/><rect x="208.1" y="427.6" width="14.4" height="5.0" rx="2.5" fill="#111" opacity="0.27"/></g><g filter="url(#b1)"><rect x="55.4" y="427.7" width="15.7" height="6.0" rx="3.0" fill="#0c0c0c" opacity="1"/><rect x="73.4" y="427.5" width="14.2" height="5.8" rx="2.9" fill="#0c0c0c" opacity="1"/><rect x="92.0" y="429.5" width="9.9" height="1.8" rx="0.9" fill="#0c0c0c" opacity="0.5"/><rect x="108.6" y="430.0" width="10.6" height="2.0" rx="1.0" fill="#0c0c0c" opacity="0.6"/><rect x="124.6" y="429.3" width="12.0" height="2.4" rx="1.2" fill="#0c0c0c" opacity="0.72"/><rect x="142.1" y="429.4" width="12.0" height="2.6" rx="1.3" fill="#0c0c0c" opacity="0.78"/><rect x="158.7" y="429.4" width="11.9" height="2.8" rx="1.4" fill="#0c0c0c" opacity="0.82"/><rect x="175.4" y="429.5" width="12.4" height="2.8" rx="1.4" fill="#0c0c0c" opacity="0.8"/><rect x="192.6" y="429.2" width="12.8" height="3.0" rx="1.5" fill="#0c0c0c" opacity="0.87"/><rect x="208.7" y="428.6" width="13.2" height="3.0" rx="1.5" fill="#0c0c0c" opacity="0.9"/></g></g>
<clipPath id="c25"><rect x="54.9" y="438.8" width="171.90" height="10.80"/></clipPath>
<rect x="54.9" y="438.8" width="171.90" height="10.80" fill="#c0c0c0"/>
<g clip-path="url(#c25)"><g filter="url(#b2)"><rect x="54.8" y="441.0" width="16.1" height="5.2" rx="2.5" fill="#111" opacity="0.15"/><rect x="73.0" y="442.0" width="14.2" height="5.0" rx="2.5" fill="#111" opacity="0.14"/><rect x="89.5" y="441.9" width="14.7" height="5.2" rx="2.5" fill="#111" opacity="0.14"/><rect x="106.3" y="442.1" width="15.2" height="5.0" rx="2.5" fill="#111" opacity="0.13"/><rect x="123.9" y="442.1" width="14.9" height="5.2" rx="2.5" fill="#111" opacity="0.14"/><rect x="140.3" y="441.7" width="14.8" height="5.0" rx="2.5" fill="#111" opacity="0.13"/><rect x="156.8" y="442.1" width="15.9" height="5.2" rx="2.5" fill="#111" opacity="0.14"/><rect x="174.5" y="441.7" width="14.6" height="5.0" rx="2.5" fill="#111" opacity="0.12"/><rect x="191.7" y="441.7" width="15.2" height="5.2" rx="2.5" fill="#111" opacity="0.14"/><rect x="208.2" y="441.7" width="15.2" height="5.2" rx="2.5" fill="#111" opacity="0.14"/></g><g filter="url(#b2)"><rect x="55.4" y="442.0" width="14.9" height="3.2" rx="1.6" fill="#0c0c0c" opacity="0.5"/><rect x="73.6" y="443.0" width="13.0" height="3.0" rx="1.5" fill="#0c0c0c" opacity="0.45"/><rect x="90.1" y="442.9" width="13.5" height="3.2" rx="1.6" fill="#0c0c0c" opacity="0.48"/><rect x="106.9" y="443.1" width="14.0" height="3.0" rx="1.5" fill="#0c0c0c" opacity="0.42"/><rect x="124.5" y="443.1" width="13.7" height="3.2" rx="1.6" fill="#0c0c0c" opacity="0.48"/><rect x="140.9" y="442.7" width="13.6" height="3.0" rx="1.5" fill="#0c0c0c" opacity="0.42"/><rect x="157.4" y="443.1" width="14.7" height="3.2" rx="1.6" fill="#0c0c0c" opacity="0.48"/><rect x="175.1" y="442.7" width="13.4" height="3.0" rx="1.5" fill="#0c0c0c" opacity="0.4"/><rect x="192.3" y="442.7" width="14.0" height="3.2" rx="1.6" fill="#0c0c0c" opacity="0.48"/><rect x="208.8" y="442.7" width="14.0" height="3.2" rx="1.6" fill="#0c0c0c" opacity="0.48"/></g></g>
<text x="0" y="0" font-size="8.6" text-anchor="start" fill="#1a1a1a" font-weight="normal" font-style="normal" stroke="#1a1a1a" stroke-width="0.22" transform="translate(230 404.25) scale(0.94 1)" >pBTK (Y223)</text>
<text x="0" y="0" font-size="8.6" text-anchor="start" fill="#1a1a1a" font-weight="normal" font-style="normal" stroke="#1a1a1a" stroke-width="0.22" transform="translate(230 418.65000000000003) scale(0.94 1)" >BTK</text>
<text x="0" y="0" font-size="8.6" text-anchor="start" fill="#1a1a1a" font-weight="normal" font-style="normal" stroke="#1a1a1a" stroke-width="0.22" transform="translate(230 433.55) scale(0.94 1)" >p27</text>
<text x="0" y="0" font-size="8.6" text-anchor="start" fill="#1a1a1a" font-weight="normal" font-style="normal" stroke="#1a1a1a" stroke-width="0.22" transform="translate(230 446.65000000000003) scale(0.94 1)" >GAPDH</text>
<line x1="335.2" y1="374.8" x2="335.2" y2="473.3" stroke="#000" stroke-width="1.2" />
<line x1="334.59999999999997" y1="472.8" x2="505.6" y2="472.8" stroke="#000" stroke-width="1.2" />
<line x1="332.0" y1="472.8" x2="335.2" y2="472.8" stroke="#000" stroke-width="1" />
<text x="0" y="0" font-size="8.7" text-anchor="end" fill="#1a1a1a" font-weight="normal" font-style="normal" stroke="#1a1a1a" stroke-width="0.22" transform="translate(330.3 475.90000000000003) scale(1.1 1)" >0</text>
<line x1="332.0" y1="450.52" x2="335.2" y2="450.52" stroke="#000" stroke-width="1" />
<text x="0" y="0" font-size="8.7" text-anchor="end" fill="#1a1a1a" font-weight="normal" font-style="normal" stroke="#1a1a1a" stroke-width="0.22" transform="translate(330.3 453.62) scale(1.1 1)" >50</text>
<line x1="332.0" y1="428.24" x2="335.2" y2="428.24" stroke="#000" stroke-width="1" />
<text x="0" y="0" font-size="8.7" text-anchor="end" fill="#1a1a1a" font-weight="normal" font-style="normal" stroke="#1a1a1a" stroke-width="0.22" transform="translate(330.3 431.34000000000003) scale(1.1 1)" >100</text>
<line x1="332.0" y1="405.96000000000004" x2="335.2" y2="405.96000000000004" stroke="#000" stroke-width="1" />
<text x="0" y="0" font-size="8.7" text-anchor="end" fill="#1a1a1a" font-weight="normal" font-style="normal" stroke="#1a1a1a" stroke-width="0.22" transform="translate(330.3 409.06000000000006) scale(1.1 1)" >150</text>
<line x1="332.0" y1="383.68" x2="335.2" y2="383.68" stroke="#000" stroke-width="1" />
<text x="0" y="0" font-size="8.7" text-anchor="end" fill="#1a1a1a" font-weight="normal" font-style="normal" stroke="#1a1a1a" stroke-width="0.22" transform="translate(330.3 386.78000000000003) scale(1.1 1)" >200</text>
<text x="0" y="0" font-size="8.75" text-anchor="start" fill="#1a1a1a" font-weight="normal" font-style="normal" stroke="#1a1a1a" stroke-width="0.22" transform="translate(309.3 473.5) rotate(-90)" >p27/GAPDH, % of control</text>
<line x1="335.2" y1="428.0" x2="505" y2="428.0" stroke="#222" stroke-width="0.9" stroke-dasharray="1.2 1.2"/>
<line x1="352.2" y1="415" x2="352.2" y2="448.7" stroke="#1a1a1a" stroke-width="1.25" />
<line x1="346.3" y1="415" x2="358.09999999999997" y2="415" stroke="#1a1a1a" stroke-width="1.25" />
<line x1="346.3" y1="448.7" x2="358.09999999999997" y2="448.7" stroke="#1a1a1a" stroke-width="1.25" />
<line x1="340.8" y1="431.5" x2="363.59999999999997" y2="431.5" stroke="#1a1a1a" stroke-width="1.25" />
<circle cx="349.6" cy="427.7" r="1.9" fill="#6aa84f"/>
<circle cx="354.8" cy="427.7" r="1.9" fill="#6aa84f"/>
<circle cx="352.2" cy="439.4" r="1.9" fill="#6aa84f"/>
<text x="352.3" y="410" font-size="7.3" text-anchor="middle" fill="#1a1a1a" font-weight="normal" font-style="normal" stroke="#1a1a1a" stroke-width="0.22" ><tspan font-style="italic">P</tspan>=.4406</text>
<line x1="385.9" y1="381.1" x2="385.9" y2="451.3" stroke="#1a1a1a" stroke-width="1.25" />
<line x1="380.0" y1="381.1" x2="391.79999999999995" y2="381.1" stroke="#1a1a1a" stroke-width="1.25" />
<line x1="380.0" y1="451.3" x2="391.79999999999995" y2="451.3" stroke="#1a1a1a" stroke-width="1.25" />
<line x1="374.5" y1="416.3" x2="397.29999999999995" y2="416.3" stroke="#1a1a1a" stroke-width="1.25" />
<rect x="384.1" y="400.9" width="3.6" height="3.6" rx="0.9" fill="#c2127b"/>
<rect x="384.1" y="414.5" width="3.6" height="3.6" rx="0.9" fill="#c2127b"/>
<rect x="384.1" y="428.7" width="3.6" height="3.6" rx="0.9" fill="#c2127b"/>
<text x="386" y="376" font-size="7.3" text-anchor="middle" fill="#1a1a1a" font-weight="normal" font-style="normal" stroke="#1a1a1a" stroke-width="0.22" ><tspan font-style="italic">P</tspan>=.2824</text>
<line x1="419.8" y1="391.7" x2="419.8" y2="428.4" stroke="#1a1a1a" stroke-width="1.25" />
<line x1="413.90000000000003" y1="391.7" x2="425.7" y2="391.7" stroke="#1a1a1a" stroke-width="1.25" />
<line x1="413.90000000000003" y1="428.4" x2="425.7" y2="428.4" stroke="#1a1a1a" stroke-width="1.25" />
<line x1="408.40000000000003" y1="410.2" x2="431.2" y2="410.2" stroke="#1a1a1a" stroke-width="1.25" />
<path d="M419.8 395.8 L421.90000000000003 399.6 L417.7 399.6 Z" fill="#2b4d8b"/>
<path d="M419.8 401.40000000000003 L421.90000000000003 405.20000000000005 L417.7 405.20000000000005 Z" fill="#2b4d8b"/>
<path d="M423 414.8 L425.1 418.6 L420.9 418.6 Z" fill="#2b4d8b"/>
<path d="M417 420.40000000000003 L419.1 424.20000000000005 L414.9 424.20000000000005 Z" fill="#2b4d8b"/>
<text x="420.3" y="386.2" font-size="7.3" text-anchor="middle" fill="#1a1a1a" font-weight="normal" font-style="normal" stroke="#1a1a1a" stroke-width="0.22" ><tspan font-style="italic">P</tspan>=.0532</text>
<line x1="454" y1="399.3" x2="454" y2="427.9" stroke="#1a1a1a" stroke-width="1.25" />
<line x1="448.1" y1="399.3" x2="459.9" y2="399.3" stroke="#1a1a1a" stroke-width="1.25" />
<line x1="448.1" y1="427.9" x2="459.9" y2="427.9" stroke="#1a1a1a" stroke-width="1.25" />
<line x1="442.6" y1="413.2" x2="465.4" y2="413.2" stroke="#1a1a1a" stroke-width="1.25" />
<path d="M448.7 418.5 L450.8 414.7 L446.59999999999997 414.7 Z" fill="#e2a336"/>
<path d="M454 421.0 L456.1 417.2 L451.9 417.2 Z" fill="#e2a336"/>
<path d="M460.3 421.0 L462.40000000000003 417.2 L458.2 417.2 Z" fill="#e2a336"/>
<path d="M454 402.5 L456.1 398.7 L451.9 398.7 Z" fill="#e2a336"/>
<text x="454.2" y="394.3" font-size="7.3" text-anchor="middle" fill="#1a1a1a" font-weight="normal" font-style="normal" stroke="#1a1a1a" stroke-width="0.22" ><tspan font-style="italic">P</tspan>=.0482</text>
<line x1="488.1" y1="413.2" x2="488.1" y2="423.3" stroke="#1a1a1a" stroke-width="1.25" />
<line x1="482.20000000000005" y1="413.2" x2="494.0" y2="413.2" stroke="#1a1a1a" stroke-width="1.25" />
<line x1="482.20000000000005" y1="423.3" x2="494.0" y2="423.3" stroke="#1a1a1a" stroke-width="1.25" />
<line x1="476.70000000000005" y1="418.3" x2="499.5" y2="418.3" stroke="#1a1a1a" stroke-width="1.25" />
<path d="M482.8 414.1 L484.7 416.3 L482.8 418.5 L480.90000000000003 416.3 Z" fill="#c1122f"/>
<path d="M488.1 417.3 L490.0 419.5 L488.1 421.7 L486.20000000000005 419.5 Z" fill="#c1122f"/>
<path d="M493.7 415.6 L495.59999999999997 417.8 L493.7 420.0 L491.8 417.8 Z" fill="#c1122f"/>
<path d="M488.1 412.7 L490.0 414.9 L488.1 417.09999999999997 L486.20000000000005 414.9 Z" fill="#c1122f"/>
<text x="488.3" y="408.2" font-size="7.3" text-anchor="middle" fill="#1a1a1a" font-weight="normal" font-style="normal" stroke="#1a1a1a" stroke-width="0.22" ><tspan font-style="italic">P</tspan>=.0117</text>
<line x1="352.2" y1="472.8" x2="352.2" y2="476.0" stroke="#000" stroke-width="1" />
<text x="0" y="0" font-size="7.9" text-anchor="end" fill="#1a1a1a" font-weight="normal" font-style="normal" stroke="#1a1a1a" stroke-width="0.22" transform="translate(356.3 482.0) rotate(-45)" >NALM-21</text>
<line x1="385.9" y1="472.8" x2="385.9" y2="476.0" stroke="#000" stroke-width="1" />
<text x="0" y="0" font-size="7.9" text-anchor="end" fill="#1a1a1a" font-weight="normal" font-style="normal" stroke="#1a1a1a" stroke-width="0.22" transform="translate(390.0 482.0) rotate(-45)" >REH</text>
<line x1="419.8" y1="472.8" x2="419.8" y2="476.0" stroke="#000" stroke-width="1" />
<text x="0" y="0" font-size="7.9" text-anchor="end" fill="#1a1a1a" font-weight="normal" font-style="normal" stroke="#1a1a1a" stroke-width="0.22" transform="translate(423.90000000000003 482.0) rotate(-45)" >RCH-ACV</text>
<line x1="454" y1="472.8" x2="454" y2="476.0" stroke="#000" stroke-width="1" />
<text x="0" y="0" font-size="7.9" text-anchor="end" fill="#1a1a1a" font-weight="normal" font-style="normal" stroke="#1a1a1a" stroke-width="0.22" transform="translate(458.1 482.0) rotate(-45)" >SMS-SB</text>
<line x1="488.1" y1="472.8" x2="488.1" y2="476.0" stroke="#000" stroke-width="1" />
<text x="0" y="0" font-size="7.9" text-anchor="end" fill="#1a1a1a" font-weight="normal" font-style="normal" stroke="#1a1a1a" stroke-width="0.22" transform="translate(492.20000000000005 482.0) rotate(-45)" >Kasumi-2</text>
</g>
<rect x="0.5" y="0.5" width="519" height="513" fill="none" stroke="#000" stroke-width="1.25"/>
</svg>
</body></html>
